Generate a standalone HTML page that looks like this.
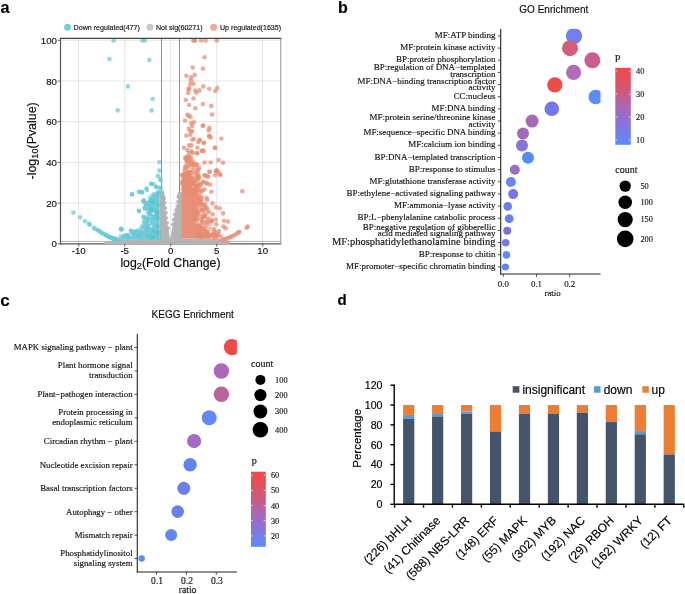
<!DOCTYPE html>
<html><head><meta charset="utf-8"><style>
html,body{margin:0;padding:0;background:#fff;width:685px;height:594px;overflow:hidden}
svg{display:block;will-change:transform}
text{stroke:currentColor;stroke-width:0.15px}
</style></head><body>
<svg width="685" height="594" viewBox="0 0 685 594">
<rect width="685" height="594" fill="#fff"/>
<text x="0.4" y="12.9" font-size="16.2" font-family='"Liberation Sans", sans-serif' text-anchor="start" fill="#000" font-weight="bold">a</text>
<text x="337.9" y="12.7" font-size="16" font-family='"Liberation Sans", sans-serif' text-anchor="start" fill="#000" font-weight="bold">b</text>
<text x="0.2" y="305.5" font-size="17" font-family='"Liberation Sans", sans-serif' text-anchor="start" fill="#000" font-weight="bold">c</text>
<text x="337.6" y="304.7" font-size="15" font-family='"Liberation Sans", sans-serif' text-anchor="start" fill="#000" font-weight="bold">d</text>
<rect x="60.5" y="38.3" width="220.2" height="205.5" fill="#fff"/>
<line x1="78.69999999999999" y1="38.3" x2="78.69999999999999" y2="243.8" stroke="#dedede" stroke-width="0.8" />
<line x1="124.69999999999999" y1="38.3" x2="124.69999999999999" y2="243.8" stroke="#dedede" stroke-width="0.8" />
<line x1="170.7" y1="38.3" x2="170.7" y2="243.8" stroke="#dedede" stroke-width="0.8" />
<line x1="216.7" y1="38.3" x2="216.7" y2="243.8" stroke="#dedede" stroke-width="0.8" />
<line x1="262.7" y1="38.3" x2="262.7" y2="243.8" stroke="#dedede" stroke-width="0.8" />
<line x1="60.5" y1="203.10000000000002" x2="280.7" y2="203.10000000000002" stroke="#dedede" stroke-width="0.8" />
<line x1="60.5" y1="162.4" x2="280.7" y2="162.4" stroke="#dedede" stroke-width="0.8" />
<line x1="60.5" y1="121.7" x2="280.7" y2="121.7" stroke="#dedede" stroke-width="0.8" />
<line x1="60.5" y1="81.0" x2="280.7" y2="81.0" stroke="#dedede" stroke-width="0.8" />
<line x1="60.5" y1="40.30000000000001" x2="280.7" y2="40.30000000000001" stroke="#dedede" stroke-width="0.8" />
<line x1="161.5" y1="38.3" x2="161.5" y2="243.8" stroke="#909090" stroke-width="1" />
<line x1="179.5" y1="38.3" x2="179.5" y2="243.8" stroke="#909090" stroke-width="1" />
<line x1="60.5" y1="241.4" x2="280.7" y2="241.4" stroke="#9a9a9a" stroke-width="0.8" />
<line x1="59.9" y1="243.8" x2="281.3" y2="243.8" stroke="#555" stroke-width="1.2" />
<polygon points="104.4,244.6 104.4,241.4 110.0,241.0 116.0,239.6 125.0,239.2 140.0,239.0 150.0,238.8 159.4,238.6 159.4,194.0 160.3,191.8 162.1,190.8 163.9,192.0 164.6,196.0 164.6,200.2 165.1,205.2 165.6,211.3 166.1,215.3 166.6,220.4 167.6,225.4 168.6,230.5 169.6,235.5 170.4,238.5 171.2,233.5 172.7,225.4 174.2,217.3 175.2,212.3 176.7,208.2 177.7,205.2 178.2,201.2 178.0,196.1 178.7,193.3 180.2,191.3 182.1,192.5 182.1,238.4 200.0,238.5 215.0,238.7 222.0,239.2 226.0,240.0 230.5,241.0 230.5,244.6" fill="#b4b4b4"/>
<circle cx="162.1" cy="193.2" r="2.0" fill="#b0b0b0" fill-opacity="0.8"/>
<circle cx="164.2" cy="198.5" r="2.0" fill="#b0b0b0" fill-opacity="0.8"/>
<circle cx="164.6" cy="203.0" r="2.0" fill="#b0b0b0" fill-opacity="0.8"/>
<circle cx="165.3" cy="208.0" r="2.0" fill="#b0b0b0" fill-opacity="0.8"/>
<circle cx="165.9" cy="213.0" r="2.0" fill="#b0b0b0" fill-opacity="0.8"/>
<circle cx="166.3" cy="218.0" r="2.0" fill="#b0b0b0" fill-opacity="0.8"/>
<circle cx="167.1" cy="223.0" r="2.0" fill="#b0b0b0" fill-opacity="0.8"/>
<circle cx="168.1" cy="228.0" r="2.0" fill="#b0b0b0" fill-opacity="0.8"/>
<circle cx="179.6" cy="193.6" r="2.0" fill="#b0b0b0" fill-opacity="0.8"/>
<circle cx="178.4" cy="197.0" r="2.0" fill="#b0b0b0" fill-opacity="0.8"/>
<circle cx="178.2" cy="201.5" r="2.0" fill="#b0b0b0" fill-opacity="0.8"/>
<circle cx="177.3" cy="206.0" r="2.0" fill="#b0b0b0" fill-opacity="0.8"/>
<circle cx="176.0" cy="210.0" r="2.0" fill="#b0b0b0" fill-opacity="0.8"/>
<circle cx="174.8" cy="214.5" r="2.0" fill="#b0b0b0" fill-opacity="0.8"/>
<circle cx="173.7" cy="219.5" r="2.0" fill="#b0b0b0" fill-opacity="0.8"/>
<circle cx="172.9" cy="224.5" r="2.0" fill="#b0b0b0" fill-opacity="0.8"/>
<circle cx="161.9" cy="192.6" r="2.4" fill="#b3b3b3" fill-opacity="0.95"/>
<circle cx="179.4" cy="195.3" r="2.4" fill="#b3b3b3" fill-opacity="0.95"/>
<circle cx="179.7" cy="202.6" r="2.4" fill="#b3b3b3" fill-opacity="0.95"/>
<circle cx="162.6" cy="197.0" r="2.4" fill="#b3b3b3" fill-opacity="0.95"/>
<polygon points="159.5,195.0 157.0,195.5 154.4,197.2 152.2,199.4 151.7,202.2 151.1,206.7 149.5,209.5 149.5,212.5 151.5,215.6 150.8,220.0 148.9,224.4 146.5,228.0 143.3,230.2 140.0,232.4 135.6,234.6 130.0,236.3 125.6,238.0 122.0,239.2 159.5,239.2" fill="#74ccd9"/>
<circle cx="156.7" cy="194.9" r="2.3" fill="#68c9d7" fill-opacity="0.62"/>
<circle cx="158.7" cy="193.8" r="2.3" fill="#68c9d7" fill-opacity="0.62"/>
<circle cx="158.6" cy="192.7" r="2.3" fill="#68c9d7" fill-opacity="0.62"/>
<circle cx="153.6" cy="194.1" r="2.3" fill="#68c9d7" fill-opacity="0.62"/>
<circle cx="156.3" cy="194.2" r="2.3" fill="#68c9d7" fill-opacity="0.62"/>
<circle cx="156.1" cy="196.7" r="2.3" fill="#68c9d7" fill-opacity="0.62"/>
<circle cx="152.0" cy="199.4" r="2.3" fill="#68c9d7" fill-opacity="0.62"/>
<circle cx="154.8" cy="195.8" r="2.3" fill="#68c9d7" fill-opacity="0.62"/>
<circle cx="152.0" cy="196.1" r="2.3" fill="#68c9d7" fill-opacity="0.62"/>
<circle cx="149.9" cy="201.2" r="2.3" fill="#68c9d7" fill-opacity="0.62"/>
<circle cx="150.7" cy="200.6" r="2.3" fill="#68c9d7" fill-opacity="0.62"/>
<circle cx="149.9" cy="197.8" r="2.3" fill="#68c9d7" fill-opacity="0.62"/>
<circle cx="150.3" cy="203.9" r="2.3" fill="#68c9d7" fill-opacity="0.62"/>
<circle cx="150.4" cy="203.4" r="2.3" fill="#68c9d7" fill-opacity="0.62"/>
<circle cx="151.2" cy="204.1" r="2.3" fill="#68c9d7" fill-opacity="0.62"/>
<circle cx="149.5" cy="208.9" r="2.3" fill="#68c9d7" fill-opacity="0.62"/>
<circle cx="148.4" cy="209.7" r="2.3" fill="#68c9d7" fill-opacity="0.62"/>
<circle cx="149.9" cy="207.2" r="2.3" fill="#68c9d7" fill-opacity="0.62"/>
<circle cx="148.7" cy="207.6" r="2.3" fill="#68c9d7" fill-opacity="0.62"/>
<circle cx="149.7" cy="211.0" r="2.3" fill="#68c9d7" fill-opacity="0.62"/>
<circle cx="148.1" cy="212.1" r="2.3" fill="#68c9d7" fill-opacity="0.62"/>
<circle cx="150.2" cy="213.4" r="2.3" fill="#68c9d7" fill-opacity="0.62"/>
<circle cx="152.0" cy="214.3" r="2.3" fill="#68c9d7" fill-opacity="0.62"/>
<circle cx="148.5" cy="214.5" r="2.3" fill="#68c9d7" fill-opacity="0.62"/>
<circle cx="152.0" cy="218.8" r="2.3" fill="#68c9d7" fill-opacity="0.62"/>
<circle cx="150.2" cy="216.7" r="2.3" fill="#68c9d7" fill-opacity="0.62"/>
<circle cx="150.6" cy="213.8" r="2.3" fill="#68c9d7" fill-opacity="0.62"/>
<circle cx="148.3" cy="220.7" r="2.3" fill="#68c9d7" fill-opacity="0.62"/>
<circle cx="148.9" cy="219.4" r="2.3" fill="#68c9d7" fill-opacity="0.62"/>
<circle cx="146.9" cy="222.9" r="2.3" fill="#68c9d7" fill-opacity="0.62"/>
<circle cx="148.2" cy="226.7" r="2.3" fill="#68c9d7" fill-opacity="0.62"/>
<circle cx="145.3" cy="226.5" r="2.3" fill="#68c9d7" fill-opacity="0.62"/>
<circle cx="148.6" cy="226.5" r="2.3" fill="#68c9d7" fill-opacity="0.62"/>
<circle cx="144.1" cy="226.6" r="2.3" fill="#68c9d7" fill-opacity="0.62"/>
<circle cx="145.0" cy="228.1" r="2.3" fill="#68c9d7" fill-opacity="0.62"/>
<circle cx="143.2" cy="227.5" r="2.3" fill="#68c9d7" fill-opacity="0.62"/>
<circle cx="141.6" cy="231.8" r="2.3" fill="#68c9d7" fill-opacity="0.62"/>
<circle cx="140.3" cy="231.4" r="2.3" fill="#68c9d7" fill-opacity="0.62"/>
<circle cx="138.8" cy="232.3" r="2.3" fill="#68c9d7" fill-opacity="0.62"/>
<circle cx="137.1" cy="234.4" r="2.3" fill="#68c9d7" fill-opacity="0.62"/>
<circle cx="137.2" cy="231.1" r="2.3" fill="#68c9d7" fill-opacity="0.62"/>
<circle cx="134.9" cy="231.5" r="2.3" fill="#68c9d7" fill-opacity="0.62"/>
<circle cx="132.5" cy="233.6" r="2.3" fill="#68c9d7" fill-opacity="0.62"/>
<circle cx="132.8" cy="232.7" r="2.3" fill="#68c9d7" fill-opacity="0.62"/>
<circle cx="133.8" cy="232.4" r="2.3" fill="#68c9d7" fill-opacity="0.62"/>
<circle cx="125.8" cy="235.8" r="2.3" fill="#68c9d7" fill-opacity="0.62"/>
<circle cx="127.6" cy="235.5" r="2.3" fill="#68c9d7" fill-opacity="0.62"/>
<circle cx="129.9" cy="237.5" r="2.3" fill="#68c9d7" fill-opacity="0.62"/>
<circle cx="123.1" cy="236.4" r="2.3" fill="#68c9d7" fill-opacity="0.62"/>
<circle cx="123.9" cy="236.5" r="2.3" fill="#68c9d7" fill-opacity="0.62"/>
<circle cx="120.7" cy="236.6" r="2.3" fill="#68c9d7" fill-opacity="0.62"/>
<circle cx="143.5" cy="201.5" r="2.3" fill="#68c9d7" fill-opacity="0.62"/>
<circle cx="145.5" cy="203.8" r="2.3" fill="#68c9d7" fill-opacity="0.62"/>
<circle cx="147.5" cy="202.8" r="2.3" fill="#68c9d7" fill-opacity="0.62"/>
<circle cx="144.4" cy="207.8" r="2.3" fill="#68c9d7" fill-opacity="0.62"/>
<circle cx="143.3" cy="217.0" r="2.3" fill="#68c9d7" fill-opacity="0.62"/>
<circle cx="145.5" cy="218.5" r="2.3" fill="#68c9d7" fill-opacity="0.62"/>
<circle cx="147.8" cy="219.6" r="2.3" fill="#68c9d7" fill-opacity="0.62"/>
<circle cx="144.5" cy="221.0" r="2.3" fill="#68c9d7" fill-opacity="0.62"/>
<circle cx="146.5" cy="222.5" r="2.3" fill="#68c9d7" fill-opacity="0.62"/>
<circle cx="142.5" cy="226.0" r="2.3" fill="#68c9d7" fill-opacity="0.62"/>
<circle cx="140.5" cy="228.6" r="2.3" fill="#68c9d7" fill-opacity="0.62"/>
<circle cx="137.0" cy="231.0" r="2.3" fill="#68c9d7" fill-opacity="0.62"/>
<circle cx="133.0" cy="233.0" r="2.3" fill="#68c9d7" fill-opacity="0.62"/>
<circle cx="128.5" cy="235.0" r="2.3" fill="#68c9d7" fill-opacity="0.62"/>
<circle cx="127.0" cy="236.5" r="2.3" fill="#68c9d7" fill-opacity="0.62"/>
<circle cx="124.5" cy="237.5" r="2.3" fill="#68c9d7" fill-opacity="0.62"/>
<circle cx="155.5" cy="196.0" r="2.3" fill="#68c9d7" fill-opacity="0.62"/>
<circle cx="158.0" cy="193.5" r="2.3" fill="#68c9d7" fill-opacity="0.62"/>
<circle cx="157.7" cy="218.3" r="2.3" fill="#4fbccc" fill-opacity="0.3"/>
<circle cx="158.7" cy="233.2" r="2.3" fill="#4fbccc" fill-opacity="0.3"/>
<circle cx="151.2" cy="209.6" r="2.3" fill="#4fbccc" fill-opacity="0.3"/>
<circle cx="158.9" cy="232.7" r="2.3" fill="#4fbccc" fill-opacity="0.3"/>
<circle cx="152.2" cy="231.2" r="2.3" fill="#4fbccc" fill-opacity="0.3"/>
<circle cx="148.0" cy="237.3" r="2.3" fill="#4fbccc" fill-opacity="0.3"/>
<circle cx="138.8" cy="236.4" r="2.3" fill="#4fbccc" fill-opacity="0.3"/>
<circle cx="159.1" cy="237.2" r="2.3" fill="#4fbccc" fill-opacity="0.3"/>
<circle cx="155.8" cy="232.1" r="2.3" fill="#4fbccc" fill-opacity="0.3"/>
<circle cx="146.8" cy="235.2" r="2.3" fill="#4fbccc" fill-opacity="0.3"/>
<circle cx="151.3" cy="228.2" r="2.3" fill="#4fbccc" fill-opacity="0.3"/>
<circle cx="151.6" cy="209.7" r="2.3" fill="#4fbccc" fill-opacity="0.3"/>
<circle cx="152.0" cy="237.9" r="2.3" fill="#4fbccc" fill-opacity="0.3"/>
<circle cx="157.5" cy="227.0" r="2.3" fill="#4fbccc" fill-opacity="0.3"/>
<circle cx="152.2" cy="201.5" r="2.3" fill="#4fbccc" fill-opacity="0.3"/>
<circle cx="153.0" cy="238.3" r="2.3" fill="#4fbccc" fill-opacity="0.3"/>
<circle cx="157.0" cy="214.2" r="2.3" fill="#4fbccc" fill-opacity="0.3"/>
<circle cx="154.7" cy="231.5" r="2.3" fill="#4fbccc" fill-opacity="0.3"/>
<circle cx="156.1" cy="210.6" r="2.3" fill="#4fbccc" fill-opacity="0.3"/>
<circle cx="155.9" cy="213.6" r="2.3" fill="#4fbccc" fill-opacity="0.3"/>
<circle cx="156.4" cy="217.2" r="2.3" fill="#4fbccc" fill-opacity="0.3"/>
<circle cx="152.0" cy="202.6" r="2.3" fill="#4fbccc" fill-opacity="0.3"/>
<circle cx="150.5" cy="235.3" r="2.3" fill="#4fbccc" fill-opacity="0.3"/>
<circle cx="157.3" cy="225.9" r="2.3" fill="#4fbccc" fill-opacity="0.3"/>
<circle cx="154.9" cy="236.6" r="2.3" fill="#4fbccc" fill-opacity="0.3"/>
<circle cx="157.4" cy="232.1" r="2.3" fill="#4fbccc" fill-opacity="0.3"/>
<circle cx="147.1" cy="229.6" r="2.3" fill="#4fbccc" fill-opacity="0.3"/>
<circle cx="155.6" cy="201.8" r="2.3" fill="#4fbccc" fill-opacity="0.3"/>
<circle cx="158.3" cy="204.7" r="2.3" fill="#4fbccc" fill-opacity="0.3"/>
<circle cx="157.7" cy="212.6" r="2.3" fill="#4fbccc" fill-opacity="0.3"/>
<circle cx="151" cy="226.5" r="1.4" fill="#fff" fill-opacity="0.55"/>
<circle cx="153.5" cy="213.5" r="1.4" fill="#fff" fill-opacity="0.55"/>
<polygon points="181.8,238.6 181.8,178.0 184.0,175.0 187.0,175.5 189.0,179.0 191.0,185.0 193.0,190.0 194.7,195.0 195.5,205.0 196.0,215.0 195.8,225.0 198.0,230.0 203.0,233.0 207.0,235.5 213.0,237.5 218.0,238.6" fill="#e8907a"/>
<circle cx="190.7" cy="191.6" r="2.3" fill="#e78c71" fill-opacity="0.55"/>
<circle cx="189.7" cy="174.1" r="2.3" fill="#e78c71" fill-opacity="0.55"/>
<circle cx="188.0" cy="162.2" r="2.3" fill="#e78c71" fill-opacity="0.55"/>
<circle cx="187.6" cy="181.7" r="2.3" fill="#e78c71" fill-opacity="0.55"/>
<circle cx="182.2" cy="175.5" r="2.3" fill="#e78c71" fill-opacity="0.55"/>
<circle cx="187.8" cy="178.1" r="2.3" fill="#e78c71" fill-opacity="0.55"/>
<circle cx="191.1" cy="157.4" r="2.3" fill="#e78c71" fill-opacity="0.55"/>
<circle cx="199.7" cy="184.2" r="2.3" fill="#e78c71" fill-opacity="0.55"/>
<circle cx="186.6" cy="156.5" r="2.3" fill="#e78c71" fill-opacity="0.55"/>
<circle cx="196.0" cy="165.0" r="2.3" fill="#e78c71" fill-opacity="0.55"/>
<circle cx="184.2" cy="170.6" r="2.3" fill="#e78c71" fill-opacity="0.55"/>
<circle cx="198.4" cy="185.3" r="2.3" fill="#e78c71" fill-opacity="0.55"/>
<circle cx="186.5" cy="160.5" r="2.3" fill="#e78c71" fill-opacity="0.55"/>
<circle cx="198.5" cy="176.1" r="2.3" fill="#e78c71" fill-opacity="0.55"/>
<circle cx="182.8" cy="180.5" r="2.3" fill="#e78c71" fill-opacity="0.55"/>
<circle cx="189.5" cy="157.7" r="2.3" fill="#e78c71" fill-opacity="0.55"/>
<circle cx="198.9" cy="178.5" r="2.3" fill="#e78c71" fill-opacity="0.55"/>
<circle cx="197.5" cy="171.8" r="2.3" fill="#e78c71" fill-opacity="0.55"/>
<circle cx="188.0" cy="175.5" r="2.3" fill="#e78c71" fill-opacity="0.55"/>
<circle cx="184.2" cy="174.5" r="2.3" fill="#e78c71" fill-opacity="0.55"/>
<circle cx="186.1" cy="159.0" r="2.3" fill="#e78c71" fill-opacity="0.55"/>
<circle cx="185.5" cy="166.5" r="2.3" fill="#e78c71" fill-opacity="0.55"/>
<circle cx="187.4" cy="183.1" r="2.3" fill="#e78c71" fill-opacity="0.55"/>
<circle cx="187.1" cy="173.5" r="2.3" fill="#e78c71" fill-opacity="0.55"/>
<circle cx="185.0" cy="167.8" r="2.3" fill="#e78c71" fill-opacity="0.55"/>
<circle cx="182.1" cy="182.1" r="2.3" fill="#e78c71" fill-opacity="0.55"/>
<circle cx="191.8" cy="162.0" r="2.3" fill="#e78c71" fill-opacity="0.55"/>
<circle cx="190.4" cy="189.6" r="2.3" fill="#e78c71" fill-opacity="0.55"/>
<circle cx="183.7" cy="185.3" r="2.3" fill="#e78c71" fill-opacity="0.55"/>
<circle cx="189.7" cy="173.3" r="2.3" fill="#e78c71" fill-opacity="0.55"/>
<circle cx="197.0" cy="169.5" r="2.3" fill="#e78c71" fill-opacity="0.55"/>
<circle cx="191.0" cy="180.4" r="2.3" fill="#e78c71" fill-opacity="0.55"/>
<circle cx="196.9" cy="181.1" r="2.3" fill="#e78c71" fill-opacity="0.55"/>
<circle cx="193.4" cy="170.0" r="2.3" fill="#e78c71" fill-opacity="0.55"/>
<circle cx="188.1" cy="157.0" r="2.3" fill="#e78c71" fill-opacity="0.55"/>
<circle cx="195.3" cy="164.5" r="2.3" fill="#e78c71" fill-opacity="0.55"/>
<circle cx="184.8" cy="158.1" r="2.3" fill="#e78c71" fill-opacity="0.55"/>
<circle cx="197.1" cy="187.2" r="2.3" fill="#e78c71" fill-opacity="0.55"/>
<circle cx="194.0" cy="165.4" r="2.3" fill="#e78c71" fill-opacity="0.55"/>
<circle cx="186.2" cy="165.8" r="2.3" fill="#e78c71" fill-opacity="0.55"/>
<circle cx="190.2" cy="160.8" r="2.3" fill="#e78c71" fill-opacity="0.55"/>
<circle cx="189.9" cy="164.7" r="2.3" fill="#e78c71" fill-opacity="0.55"/>
<circle cx="191.8" cy="164.0" r="2.3" fill="#e78c71" fill-opacity="0.55"/>
<circle cx="188.7" cy="172.6" r="2.3" fill="#e78c71" fill-opacity="0.55"/>
<circle cx="191.0" cy="162.4" r="2.3" fill="#e78c71" fill-opacity="0.55"/>
<circle cx="186.6" cy="158.3" r="2.3" fill="#e78c71" fill-opacity="0.55"/>
<circle cx="189.1" cy="156.5" r="2.3" fill="#e78c71" fill-opacity="0.55"/>
<circle cx="186.0" cy="176.7" r="2.3" fill="#e78c71" fill-opacity="0.55"/>
<circle cx="191.4" cy="182.8" r="2.3" fill="#e78c71" fill-opacity="0.55"/>
<circle cx="193.8" cy="181.5" r="2.3" fill="#e78c71" fill-opacity="0.55"/>
<circle cx="197.8" cy="169.4" r="2.3" fill="#e78c71" fill-opacity="0.55"/>
<circle cx="187.7" cy="191.4" r="2.3" fill="#e78c71" fill-opacity="0.55"/>
<circle cx="184.5" cy="181.8" r="2.3" fill="#e78c71" fill-opacity="0.55"/>
<circle cx="197.0" cy="188.0" r="2.3" fill="#e78c71" fill-opacity="0.55"/>
<circle cx="193.2" cy="182.2" r="2.3" fill="#e78c71" fill-opacity="0.55"/>
<circle cx="191.3" cy="173.7" r="2.3" fill="#e78c71" fill-opacity="0.55"/>
<circle cx="197.0" cy="184.8" r="2.3" fill="#e78c71" fill-opacity="0.55"/>
<circle cx="196.8" cy="176.6" r="2.3" fill="#e78c71" fill-opacity="0.55"/>
<circle cx="198.0" cy="180.3" r="2.3" fill="#e78c71" fill-opacity="0.55"/>
<circle cx="194.4" cy="163.5" r="2.3" fill="#e78c71" fill-opacity="0.55"/>
<circle cx="188.4" cy="158.9" r="2.3" fill="#e78c71" fill-opacity="0.55"/>
<circle cx="197.0" cy="175.7" r="2.3" fill="#e78c71" fill-opacity="0.55"/>
<circle cx="193.2" cy="178.2" r="2.3" fill="#e78c71" fill-opacity="0.55"/>
<circle cx="194.2" cy="173.1" r="2.3" fill="#e78c71" fill-opacity="0.55"/>
<circle cx="181.9" cy="184.5" r="2.3" fill="#e78c71" fill-opacity="0.55"/>
<circle cx="195.4" cy="173.6" r="2.3" fill="#e78c71" fill-opacity="0.55"/>
<circle cx="191.5" cy="179.4" r="2.3" fill="#e78c71" fill-opacity="0.55"/>
<circle cx="183.0" cy="182.3" r="2.3" fill="#e78c71" fill-opacity="0.55"/>
<circle cx="186.4" cy="157.8" r="2.3" fill="#e78c71" fill-opacity="0.55"/>
<circle cx="186.6" cy="182.0" r="2.3" fill="#e78c71" fill-opacity="0.55"/>
<circle cx="185.5" cy="182.4" r="2.3" fill="#e78c71" fill-opacity="0.55"/>
<circle cx="188.8" cy="172.7" r="2.3" fill="#e78c71" fill-opacity="0.55"/>
<circle cx="194.2" cy="183.4" r="2.3" fill="#e78c71" fill-opacity="0.55"/>
<circle cx="193.0" cy="178.8" r="2.3" fill="#e78c71" fill-opacity="0.55"/>
<circle cx="186.4" cy="182.5" r="2.3" fill="#e78c71" fill-opacity="0.55"/>
<circle cx="187.3" cy="176.0" r="2.3" fill="#e78c71" fill-opacity="0.55"/>
<circle cx="186.7" cy="179.9" r="2.3" fill="#e78c71" fill-opacity="0.55"/>
<circle cx="194.4" cy="180.0" r="2.3" fill="#e78c71" fill-opacity="0.55"/>
<circle cx="187.1" cy="174.1" r="2.3" fill="#e78c71" fill-opacity="0.55"/>
<circle cx="190.3" cy="172.3" r="2.3" fill="#e78c71" fill-opacity="0.55"/>
<circle cx="184.0" cy="188.1" r="2.3" fill="#e78c71" fill-opacity="0.55"/>
<circle cx="185.4" cy="191.2" r="2.3" fill="#e78c71" fill-opacity="0.55"/>
<circle cx="190.2" cy="185.3" r="2.3" fill="#e78c71" fill-opacity="0.55"/>
<circle cx="186.7" cy="162.8" r="2.3" fill="#e78c71" fill-opacity="0.55"/>
<circle cx="192.4" cy="160.2" r="2.3" fill="#e78c71" fill-opacity="0.55"/>
<circle cx="191.3" cy="190.3" r="2.3" fill="#e78c71" fill-opacity="0.55"/>
<circle cx="184.2" cy="185.3" r="2.3" fill="#e78c71" fill-opacity="0.55"/>
<circle cx="191.1" cy="187.8" r="2.3" fill="#e78c71" fill-opacity="0.55"/>
<circle cx="194.6" cy="163.6" r="2.3" fill="#e78c71" fill-opacity="0.55"/>
<circle cx="198.1" cy="173.0" r="2.3" fill="#e78c71" fill-opacity="0.55"/>
<circle cx="190.7" cy="171.7" r="2.3" fill="#e78c71" fill-opacity="0.55"/>
<circle cx="187.3" cy="160.2" r="2.3" fill="#e78c71" fill-opacity="0.55"/>
<circle cx="188.1" cy="166.7" r="2.3" fill="#e78c71" fill-opacity="0.55"/>
<circle cx="195.5" cy="186.0" r="2.3" fill="#e78c71" fill-opacity="0.55"/>
<circle cx="184.0" cy="189.3" r="2.3" fill="#e78c71" fill-opacity="0.55"/>
<circle cx="194.8" cy="188.4" r="2.3" fill="#e78c71" fill-opacity="0.55"/>
<circle cx="187.1" cy="168.8" r="2.3" fill="#e78c71" fill-opacity="0.55"/>
<circle cx="189.0" cy="192.0" r="2.3" fill="#e78c71" fill-opacity="0.55"/>
<circle cx="192.5" cy="168.3" r="2.3" fill="#e78c71" fill-opacity="0.55"/>
<circle cx="189.6" cy="165.2" r="2.3" fill="#e78c71" fill-opacity="0.55"/>
<circle cx="186.6" cy="173.9" r="2.3" fill="#e78c71" fill-opacity="0.55"/>
<circle cx="185.3" cy="168.8" r="2.3" fill="#e78c71" fill-opacity="0.55"/>
<circle cx="199.2" cy="187.7" r="2.3" fill="#e78c71" fill-opacity="0.55"/>
<circle cx="196.6" cy="178.3" r="2.3" fill="#e78c71" fill-opacity="0.55"/>
<circle cx="198.4" cy="189.8" r="2.3" fill="#e78c71" fill-opacity="0.55"/>
<circle cx="191.8" cy="181.6" r="2.3" fill="#e78c71" fill-opacity="0.55"/>
<circle cx="182.7" cy="182.1" r="2.3" fill="#e78c71" fill-opacity="0.55"/>
<circle cx="190.0" cy="182.8" r="2.3" fill="#e78c71" fill-opacity="0.55"/>
<circle cx="193.5" cy="165.6" r="2.3" fill="#e78c71" fill-opacity="0.55"/>
<circle cx="182.7" cy="189.3" r="2.3" fill="#e78c71" fill-opacity="0.55"/>
<circle cx="198.1" cy="212.7" r="2.3" fill="#e78c71" fill-opacity="0.6"/>
<circle cx="205.0" cy="204.3" r="2.3" fill="#e78c71" fill-opacity="0.6"/>
<circle cx="217.6" cy="236.9" r="2.3" fill="#e78c71" fill-opacity="0.6"/>
<circle cx="202.3" cy="221.5" r="2.3" fill="#e78c71" fill-opacity="0.6"/>
<circle cx="203.6" cy="216.8" r="2.3" fill="#e78c71" fill-opacity="0.6"/>
<circle cx="199.2" cy="200.0" r="2.3" fill="#e78c71" fill-opacity="0.6"/>
<circle cx="201.0" cy="233.5" r="2.3" fill="#e78c71" fill-opacity="0.6"/>
<circle cx="198.5" cy="199.2" r="2.3" fill="#e78c71" fill-opacity="0.6"/>
<circle cx="196.9" cy="206.4" r="2.3" fill="#e78c71" fill-opacity="0.6"/>
<circle cx="196.9" cy="201.5" r="2.3" fill="#e78c71" fill-opacity="0.6"/>
<circle cx="202.3" cy="217.3" r="2.3" fill="#e78c71" fill-opacity="0.6"/>
<circle cx="207.2" cy="209.9" r="2.3" fill="#e78c71" fill-opacity="0.6"/>
<circle cx="202.9" cy="236.4" r="2.3" fill="#e78c71" fill-opacity="0.6"/>
<circle cx="198.0" cy="214.2" r="2.3" fill="#e78c71" fill-opacity="0.6"/>
<circle cx="214.1" cy="231.4" r="2.3" fill="#e78c71" fill-opacity="0.6"/>
<circle cx="200.9" cy="203.0" r="2.3" fill="#e78c71" fill-opacity="0.6"/>
<circle cx="202.0" cy="209.2" r="2.3" fill="#e78c71" fill-opacity="0.6"/>
<circle cx="208.3" cy="235.8" r="2.3" fill="#e78c71" fill-opacity="0.6"/>
<circle cx="194.7" cy="191.5" r="2.3" fill="#e78c71" fill-opacity="0.6"/>
<circle cx="216.7" cy="233.0" r="2.3" fill="#e78c71" fill-opacity="0.6"/>
<circle cx="209.1" cy="218.2" r="2.3" fill="#e78c71" fill-opacity="0.6"/>
<circle cx="221.4" cy="236.7" r="2.3" fill="#e78c71" fill-opacity="0.6"/>
<circle cx="198.9" cy="215.1" r="2.3" fill="#e78c71" fill-opacity="0.6"/>
<circle cx="215.8" cy="235.2" r="2.3" fill="#e78c71" fill-opacity="0.6"/>
<circle cx="202.1" cy="220.5" r="2.3" fill="#e78c71" fill-opacity="0.6"/>
<circle cx="196.3" cy="215.2" r="2.3" fill="#e78c71" fill-opacity="0.6"/>
<circle cx="201.2" cy="218.9" r="2.3" fill="#e78c71" fill-opacity="0.6"/>
<circle cx="208.7" cy="236.0" r="2.3" fill="#e78c71" fill-opacity="0.6"/>
<circle cx="214.6" cy="232.4" r="2.3" fill="#e78c71" fill-opacity="0.6"/>
<circle cx="201.9" cy="236.1" r="2.3" fill="#e78c71" fill-opacity="0.6"/>
<circle cx="202.2" cy="222.0" r="2.3" fill="#e78c71" fill-opacity="0.6"/>
<circle cx="195.1" cy="206.2" r="2.3" fill="#e78c71" fill-opacity="0.6"/>
<circle cx="207.5" cy="222.8" r="2.3" fill="#e78c71" fill-opacity="0.6"/>
<circle cx="200.3" cy="228.3" r="2.3" fill="#e78c71" fill-opacity="0.6"/>
<circle cx="200.6" cy="236.6" r="2.3" fill="#e78c71" fill-opacity="0.6"/>
<circle cx="204.0" cy="229.4" r="2.3" fill="#e78c71" fill-opacity="0.6"/>
<circle cx="201.4" cy="200.6" r="2.3" fill="#e78c71" fill-opacity="0.6"/>
<circle cx="200.0" cy="200.7" r="2.3" fill="#e78c71" fill-opacity="0.6"/>
<circle cx="207.3" cy="221.9" r="2.3" fill="#e78c71" fill-opacity="0.6"/>
<circle cx="195.7" cy="192.9" r="2.3" fill="#e78c71" fill-opacity="0.6"/>
<circle cx="206.6" cy="233.1" r="2.3" fill="#e78c71" fill-opacity="0.6"/>
<circle cx="206.1" cy="207.9" r="2.3" fill="#e78c71" fill-opacity="0.6"/>
<circle cx="205.2" cy="235.9" r="2.3" fill="#e78c71" fill-opacity="0.6"/>
<circle cx="198.0" cy="236.3" r="2.3" fill="#e78c71" fill-opacity="0.6"/>
<circle cx="200.6" cy="207.1" r="2.3" fill="#e78c71" fill-opacity="0.6"/>
<circle cx="205.7" cy="233.1" r="2.3" fill="#e78c71" fill-opacity="0.6"/>
<circle cx="195.0" cy="209.7" r="2.3" fill="#e78c71" fill-opacity="0.6"/>
<circle cx="195.3" cy="191.7" r="2.3" fill="#e78c71" fill-opacity="0.6"/>
<circle cx="196.0" cy="234.2" r="2.3" fill="#e78c71" fill-opacity="0.6"/>
<circle cx="202.2" cy="225.9" r="2.3" fill="#e78c71" fill-opacity="0.6"/>
<circle cx="202.7" cy="236.0" r="2.3" fill="#e78c71" fill-opacity="0.6"/>
<circle cx="218.2" cy="234.0" r="2.3" fill="#e78c71" fill-opacity="0.6"/>
<circle cx="214.3" cy="235.3" r="2.3" fill="#e78c71" fill-opacity="0.6"/>
<circle cx="194.8" cy="201.2" r="2.3" fill="#e78c71" fill-opacity="0.6"/>
<circle cx="209.2" cy="235.9" r="2.3" fill="#e78c71" fill-opacity="0.6"/>
<circle cx="202.0" cy="210.6" r="2.3" fill="#e78c71" fill-opacity="0.6"/>
<circle cx="209.8" cy="234.5" r="2.3" fill="#e78c71" fill-opacity="0.6"/>
<circle cx="199.9" cy="228.5" r="2.3" fill="#e78c71" fill-opacity="0.6"/>
<circle cx="204.5" cy="205.3" r="2.3" fill="#e78c71" fill-opacity="0.6"/>
<circle cx="205.6" cy="227.5" r="2.3" fill="#e78c71" fill-opacity="0.6"/>
<circle cx="196.5" cy="199.5" r="2.3" fill="#e78c71" fill-opacity="0.6"/>
<circle cx="196.1" cy="191.6" r="2.3" fill="#e78c71" fill-opacity="0.6"/>
<circle cx="196.7" cy="194.6" r="2.3" fill="#e78c71" fill-opacity="0.6"/>
<circle cx="210.0" cy="224.1" r="2.3" fill="#e78c71" fill-opacity="0.6"/>
<circle cx="207.3" cy="219.8" r="2.3" fill="#e78c71" fill-opacity="0.6"/>
<circle cx="197.9" cy="230.4" r="2.3" fill="#e78c71" fill-opacity="0.6"/>
<circle cx="203.4" cy="217.2" r="2.3" fill="#e78c71" fill-opacity="0.6"/>
<circle cx="205.9" cy="225.4" r="2.3" fill="#e78c71" fill-opacity="0.6"/>
<circle cx="200.4" cy="201.9" r="2.3" fill="#e78c71" fill-opacity="0.6"/>
<circle cx="201.9" cy="197.4" r="2.3" fill="#e78c71" fill-opacity="0.6"/>
<circle cx="204.4" cy="209.0" r="2.3" fill="#e78c71" fill-opacity="0.6"/>
<circle cx="201.4" cy="228.8" r="2.3" fill="#e78c71" fill-opacity="0.6"/>
<circle cx="214.9" cy="237.6" r="2.3" fill="#e78c71" fill-opacity="0.6"/>
<circle cx="197.3" cy="212.8" r="2.3" fill="#e78c71" fill-opacity="0.6"/>
<circle cx="200.1" cy="236.7" r="2.3" fill="#e78c71" fill-opacity="0.6"/>
<circle cx="212.7" cy="234.6" r="2.3" fill="#e78c71" fill-opacity="0.6"/>
<circle cx="205.9" cy="231.6" r="2.3" fill="#e78c71" fill-opacity="0.6"/>
<circle cx="218.9" cy="235.4" r="2.3" fill="#e78c71" fill-opacity="0.6"/>
<circle cx="197.4" cy="218.6" r="2.3" fill="#e78c71" fill-opacity="0.6"/>
<circle cx="200.5" cy="202.2" r="2.3" fill="#e78c71" fill-opacity="0.6"/>
<circle cx="204.5" cy="222.6" r="2.3" fill="#e78c71" fill-opacity="0.6"/>
<circle cx="199.9" cy="205.0" r="2.3" fill="#e78c71" fill-opacity="0.6"/>
<circle cx="200.5" cy="228.2" r="2.3" fill="#e78c71" fill-opacity="0.6"/>
<circle cx="197.2" cy="209.0" r="2.3" fill="#e78c71" fill-opacity="0.6"/>
<circle cx="211.6" cy="220.7" r="2.3" fill="#e78c71" fill-opacity="0.6"/>
<circle cx="196.9" cy="197.9" r="2.3" fill="#e78c71" fill-opacity="0.6"/>
<circle cx="203.1" cy="204.8" r="2.3" fill="#e78c71" fill-opacity="0.6"/>
<circle cx="207.3" cy="231.5" r="2.3" fill="#e78c71" fill-opacity="0.6"/>
<circle cx="200.3" cy="224.9" r="2.3" fill="#e78c71" fill-opacity="0.6"/>
<circle cx="199.2" cy="190.7" r="2.3" fill="#e78c71" fill-opacity="0.6"/>
<circle cx="211.6" cy="220.8" r="2.3" fill="#e78c71" fill-opacity="0.6"/>
<circle cx="203.1" cy="215.0" r="2.3" fill="#e78c71" fill-opacity="0.6"/>
<circle cx="209.7" cy="228.6" r="2.3" fill="#e78c71" fill-opacity="0.6"/>
<circle cx="198.1" cy="235.3" r="2.3" fill="#e78c71" fill-opacity="0.6"/>
<circle cx="206.4" cy="233.4" r="2.3" fill="#e78c71" fill-opacity="0.6"/>
<circle cx="185.9" cy="173.8" r="2.3" fill="#e78c71" fill-opacity="0.6"/>
<circle cx="183.5" cy="174.3" r="2.3" fill="#e78c71" fill-opacity="0.6"/>
<circle cx="186.4" cy="173.2" r="2.3" fill="#e78c71" fill-opacity="0.6"/>
<circle cx="183.1" cy="176.4" r="2.3" fill="#e78c71" fill-opacity="0.6"/>
<circle cx="182.2" cy="174.8" r="2.3" fill="#e78c71" fill-opacity="0.6"/>
<circle cx="189.2" cy="172.5" r="2.3" fill="#e78c71" fill-opacity="0.6"/>
<circle cx="188.1" cy="172.4" r="2.3" fill="#e78c71" fill-opacity="0.6"/>
<circle cx="186.0" cy="174.8" r="2.3" fill="#e78c71" fill-opacity="0.6"/>
<circle cx="187.5" cy="173.5" r="2.3" fill="#e78c71" fill-opacity="0.6"/>
<circle cx="186.9" cy="173.9" r="2.3" fill="#e78c71" fill-opacity="0.6"/>
<circle cx="189.3" cy="176.6" r="2.3" fill="#e78c71" fill-opacity="0.6"/>
<circle cx="188.8" cy="174.5" r="2.3" fill="#e78c71" fill-opacity="0.6"/>
<circle cx="189.9" cy="176.4" r="2.3" fill="#e78c71" fill-opacity="0.6"/>
<circle cx="187.7" cy="176.0" r="2.3" fill="#e78c71" fill-opacity="0.6"/>
<circle cx="186.8" cy="174.6" r="2.3" fill="#e78c71" fill-opacity="0.6"/>
<circle cx="190.2" cy="178.6" r="2.3" fill="#e78c71" fill-opacity="0.6"/>
<circle cx="190.9" cy="176.6" r="2.3" fill="#e78c71" fill-opacity="0.6"/>
<circle cx="193.0" cy="182.4" r="2.3" fill="#e78c71" fill-opacity="0.6"/>
<circle cx="190.4" cy="177.8" r="2.3" fill="#e78c71" fill-opacity="0.6"/>
<circle cx="190.5" cy="185.1" r="2.3" fill="#e78c71" fill-opacity="0.6"/>
<circle cx="195.3" cy="190.2" r="2.3" fill="#e78c71" fill-opacity="0.6"/>
<circle cx="194.8" cy="184.9" r="2.3" fill="#e78c71" fill-opacity="0.6"/>
<circle cx="196.0" cy="187.4" r="2.3" fill="#e78c71" fill-opacity="0.6"/>
<circle cx="195.8" cy="186.2" r="2.3" fill="#e78c71" fill-opacity="0.6"/>
<circle cx="194.1" cy="184.4" r="2.3" fill="#e78c71" fill-opacity="0.6"/>
<circle cx="194.8" cy="194.7" r="2.3" fill="#e78c71" fill-opacity="0.6"/>
<circle cx="194.5" cy="191.4" r="2.3" fill="#e78c71" fill-opacity="0.6"/>
<circle cx="193.5" cy="190.1" r="2.3" fill="#e78c71" fill-opacity="0.6"/>
<circle cx="192.7" cy="189.3" r="2.3" fill="#e78c71" fill-opacity="0.6"/>
<circle cx="196.5" cy="190.5" r="2.3" fill="#e78c71" fill-opacity="0.6"/>
<circle cx="195.2" cy="204.1" r="2.3" fill="#e78c71" fill-opacity="0.6"/>
<circle cx="196.2" cy="195.7" r="2.3" fill="#e78c71" fill-opacity="0.6"/>
<circle cx="197.9" cy="197.8" r="2.3" fill="#e78c71" fill-opacity="0.6"/>
<circle cx="198.1" cy="198.2" r="2.3" fill="#e78c71" fill-opacity="0.6"/>
<circle cx="197.3" cy="203.5" r="2.3" fill="#e78c71" fill-opacity="0.6"/>
<circle cx="196.1" cy="213.9" r="2.3" fill="#e78c71" fill-opacity="0.6"/>
<circle cx="196.4" cy="210.8" r="2.3" fill="#e78c71" fill-opacity="0.6"/>
<circle cx="195.5" cy="209.4" r="2.3" fill="#e78c71" fill-opacity="0.6"/>
<circle cx="198.2" cy="203.5" r="2.3" fill="#e78c71" fill-opacity="0.6"/>
<circle cx="199.2" cy="210.7" r="2.3" fill="#e78c71" fill-opacity="0.6"/>
<circle cx="196.3" cy="218.6" r="2.3" fill="#e78c71" fill-opacity="0.6"/>
<circle cx="195.7" cy="214.8" r="2.3" fill="#e78c71" fill-opacity="0.6"/>
<circle cx="197.2" cy="219.9" r="2.3" fill="#e78c71" fill-opacity="0.6"/>
<circle cx="196.0" cy="215.9" r="2.3" fill="#e78c71" fill-opacity="0.6"/>
<circle cx="195.0" cy="213.6" r="2.3" fill="#e78c71" fill-opacity="0.6"/>
<circle cx="196.6" cy="223.4" r="2.3" fill="#e78c71" fill-opacity="0.6"/>
<circle cx="198.7" cy="225.7" r="2.3" fill="#e78c71" fill-opacity="0.6"/>
<circle cx="198.3" cy="225.7" r="2.3" fill="#e78c71" fill-opacity="0.6"/>
<circle cx="198.0" cy="227.3" r="2.3" fill="#e78c71" fill-opacity="0.6"/>
<circle cx="197.9" cy="226.0" r="2.3" fill="#e78c71" fill-opacity="0.6"/>
<circle cx="202.7" cy="230.4" r="2.3" fill="#e78c71" fill-opacity="0.6"/>
<circle cx="200.0" cy="229.3" r="2.3" fill="#e78c71" fill-opacity="0.6"/>
<circle cx="201.7" cy="229.8" r="2.3" fill="#e78c71" fill-opacity="0.6"/>
<circle cx="205.0" cy="230.8" r="2.3" fill="#e78c71" fill-opacity="0.6"/>
<circle cx="201.7" cy="231.8" r="2.3" fill="#e78c71" fill-opacity="0.6"/>
<circle cx="204.7" cy="231.2" r="2.3" fill="#e78c71" fill-opacity="0.6"/>
<circle cx="205.2" cy="234.2" r="2.3" fill="#e78c71" fill-opacity="0.6"/>
<circle cx="206.4" cy="233.2" r="2.3" fill="#e78c71" fill-opacity="0.6"/>
<circle cx="206.7" cy="234.1" r="2.3" fill="#e78c71" fill-opacity="0.6"/>
<circle cx="206.0" cy="233.3" r="2.3" fill="#e78c71" fill-opacity="0.6"/>
<circle cx="208.0" cy="236.7" r="2.3" fill="#e78c71" fill-opacity="0.6"/>
<circle cx="213.9" cy="234.1" r="2.3" fill="#e78c71" fill-opacity="0.6"/>
<circle cx="214.4" cy="236.0" r="2.3" fill="#e78c71" fill-opacity="0.6"/>
<circle cx="212.5" cy="234.9" r="2.3" fill="#e78c71" fill-opacity="0.6"/>
<circle cx="207.7" cy="232.9" r="2.3" fill="#e78c71" fill-opacity="0.6"/>
<circle cx="113.6" cy="40.5" r="2.3" fill="#68c9d7" fill-opacity="0.72"/>
<circle cx="142.4" cy="40.5" r="2.3" fill="#68c9d7" fill-opacity="0.72"/>
<circle cx="144.8" cy="40.5" r="2.3" fill="#68c9d7" fill-opacity="0.72"/>
<circle cx="109.4" cy="59.0" r="2.3" fill="#68c9d7" fill-opacity="0.72"/>
<circle cx="149.3" cy="59.9" r="2.3" fill="#68c9d7" fill-opacity="0.72"/>
<circle cx="127.9" cy="86.4" r="2.3" fill="#68c9d7" fill-opacity="0.72"/>
<circle cx="152.7" cy="99.0" r="2.3" fill="#68c9d7" fill-opacity="0.72"/>
<circle cx="117.7" cy="110.4" r="2.3" fill="#68c9d7" fill-opacity="0.72"/>
<circle cx="151.6" cy="110.4" r="2.3" fill="#68c9d7" fill-opacity="0.72"/>
<circle cx="159.3" cy="162.2" r="2.3" fill="#68c9d7" fill-opacity="0.72"/>
<circle cx="159.4" cy="170.6" r="2.3" fill="#68c9d7" fill-opacity="0.72"/>
<circle cx="157.9" cy="175.9" r="2.3" fill="#68c9d7" fill-opacity="0.72"/>
<circle cx="160.2" cy="178.9" r="2.3" fill="#68c9d7" fill-opacity="0.72"/>
<circle cx="160.9" cy="180.5" r="2.3" fill="#68c9d7" fill-opacity="0.72"/>
<circle cx="151.1" cy="183.9" r="2.3" fill="#68c9d7" fill-opacity="0.72"/>
<circle cx="153.6" cy="184.2" r="2.3" fill="#68c9d7" fill-opacity="0.72"/>
<circle cx="156.4" cy="187.3" r="2.3" fill="#68c9d7" fill-opacity="0.72"/>
<circle cx="160.2" cy="187.7" r="2.3" fill="#68c9d7" fill-opacity="0.72"/>
<circle cx="146.5" cy="188.3" r="2.3" fill="#68c9d7" fill-opacity="0.72"/>
<circle cx="138.9" cy="191.8" r="2.3" fill="#68c9d7" fill-opacity="0.72"/>
<circle cx="142.0" cy="192.3" r="2.3" fill="#68c9d7" fill-opacity="0.72"/>
<circle cx="132.1" cy="194.4" r="2.3" fill="#68c9d7" fill-opacity="0.72"/>
<circle cx="143.9" cy="200.6" r="2.3" fill="#68c9d7" fill-opacity="0.72"/>
<circle cx="146.1" cy="203.2" r="2.3" fill="#68c9d7" fill-opacity="0.72"/>
<circle cx="148.0" cy="204.4" r="2.3" fill="#68c9d7" fill-opacity="0.72"/>
<circle cx="153.6" cy="197.6" r="2.3" fill="#68c9d7" fill-opacity="0.72"/>
<circle cx="155.2" cy="199.1" r="2.3" fill="#68c9d7" fill-opacity="0.72"/>
<circle cx="145.5" cy="208.2" r="2.3" fill="#68c9d7" fill-opacity="0.72"/>
<circle cx="138.9" cy="211.1" r="2.3" fill="#68c9d7" fill-opacity="0.72"/>
<circle cx="121.5" cy="229.4" r="2.3" fill="#68c9d7" fill-opacity="0.72"/>
<circle cx="130.9" cy="230.8" r="2.3" fill="#68c9d7" fill-opacity="0.72"/>
<circle cx="126.8" cy="235.3" r="2.3" fill="#68c9d7" fill-opacity="0.72"/>
<circle cx="151.8" cy="183.8" r="2.3" fill="#68c9d7" fill-opacity="0.72"/>
<circle cx="156.3" cy="186.8" r="2.3" fill="#68c9d7" fill-opacity="0.72"/>
<circle cx="160.7" cy="188.2" r="2.3" fill="#68c9d7" fill-opacity="0.72"/>
<circle cx="158.0" cy="192.0" r="2.3" fill="#68c9d7" fill-opacity="0.72"/>
<circle cx="73.3" cy="212.6" r="2.3" fill="#68c9d7" fill-opacity="0.72"/>
<circle cx="80.1" cy="217.3" r="2.3" fill="#68c9d7" fill-opacity="0.72"/>
<circle cx="85.0" cy="221.3" r="2.3" fill="#68c9d7" fill-opacity="0.72"/>
<circle cx="89.1" cy="223.9" r="2.3" fill="#68c9d7" fill-opacity="0.72"/>
<circle cx="89.8" cy="224.6" r="2.3" fill="#68c9d7" fill-opacity="0.72"/>
<circle cx="93.7" cy="227.9" r="2.3" fill="#68c9d7" fill-opacity="0.72"/>
<circle cx="97.8" cy="230.3" r="2.3" fill="#68c9d7" fill-opacity="0.72"/>
<circle cx="99.3" cy="231.0" r="2.3" fill="#68c9d7" fill-opacity="0.72"/>
<circle cx="101.9" cy="233.0" r="2.3" fill="#68c9d7" fill-opacity="0.72"/>
<circle cx="103.4" cy="233.8" r="2.3" fill="#68c9d7" fill-opacity="0.72"/>
<circle cx="105.0" cy="234.6" r="2.3" fill="#68c9d7" fill-opacity="0.72"/>
<circle cx="107.0" cy="235.7" r="2.3" fill="#68c9d7" fill-opacity="0.72"/>
<circle cx="109.0" cy="236.7" r="2.3" fill="#68c9d7" fill-opacity="0.72"/>
<circle cx="111.1" cy="237.7" r="2.3" fill="#68c9d7" fill-opacity="0.72"/>
<circle cx="113.1" cy="238.4" r="2.3" fill="#68c9d7" fill-opacity="0.72"/>
<circle cx="115.2" cy="238.9" r="2.3" fill="#68c9d7" fill-opacity="0.72"/>
<circle cx="117.2" cy="239.2" r="2.3" fill="#68c9d7" fill-opacity="0.72"/>
<circle cx="121.3" cy="229.2" r="2.3" fill="#68c9d7" fill-opacity="0.72"/>
<circle cx="132.0" cy="194.2" r="2.3" fill="#68c9d7" fill-opacity="0.72"/>
<circle cx="139.9" cy="191.9" r="2.3" fill="#68c9d7" fill-opacity="0.72"/>
<circle cx="142.2" cy="192.3" r="2.3" fill="#68c9d7" fill-opacity="0.72"/>
<circle cx="146.9" cy="190.0" r="2.3" fill="#68c9d7" fill-opacity="0.72"/>
<circle cx="143.6" cy="200.6" r="2.3" fill="#68c9d7" fill-opacity="0.72"/>
<circle cx="145.9" cy="203.9" r="2.3" fill="#68c9d7" fill-opacity="0.72"/>
<circle cx="147.8" cy="203.9" r="2.3" fill="#68c9d7" fill-opacity="0.72"/>
<circle cx="139.0" cy="210.8" r="2.3" fill="#68c9d7" fill-opacity="0.72"/>
<circle cx="145.0" cy="208.5" r="2.3" fill="#68c9d7" fill-opacity="0.72"/>
<circle cx="144.1" cy="216.9" r="2.3" fill="#68c9d7" fill-opacity="0.72"/>
<circle cx="146.9" cy="217.8" r="2.3" fill="#68c9d7" fill-opacity="0.72"/>
<circle cx="144.0" cy="222.4" r="2.3" fill="#68c9d7" fill-opacity="0.72"/>
<circle cx="146.9" cy="225.2" r="2.3" fill="#68c9d7" fill-opacity="0.72"/>
<circle cx="120.9" cy="228.9" r="2.3" fill="#68c9d7" fill-opacity="0.72"/>
<circle cx="131.1" cy="230.7" r="2.3" fill="#68c9d7" fill-opacity="0.72"/>
<circle cx="135.3" cy="233.5" r="2.3" fill="#68c9d7" fill-opacity="0.72"/>
<circle cx="126.5" cy="235.4" r="2.3" fill="#68c9d7" fill-opacity="0.72"/>
<circle cx="127.4" cy="238.1" r="2.3" fill="#68c9d7" fill-opacity="0.72"/>
<circle cx="120.9" cy="239.0" r="2.3" fill="#68c9d7" fill-opacity="0.72"/>
<circle cx="95.5" cy="229.0" r="2.3" fill="#68c9d7" fill-opacity="0.72"/>
<circle cx="100.5" cy="232.0" r="2.3" fill="#68c9d7" fill-opacity="0.72"/>
<circle cx="106.0" cy="235.0" r="2.3" fill="#68c9d7" fill-opacity="0.72"/>
<circle cx="108.0" cy="236.2" r="2.3" fill="#68c9d7" fill-opacity="0.72"/>
<circle cx="110.0" cy="237.2" r="2.3" fill="#68c9d7" fill-opacity="0.72"/>
<circle cx="112.0" cy="238.0" r="2.3" fill="#68c9d7" fill-opacity="0.72"/>
<circle cx="114.0" cy="238.6" r="2.3" fill="#68c9d7" fill-opacity="0.72"/>
<circle cx="116.0" cy="239.0" r="2.3" fill="#68c9d7" fill-opacity="0.72"/>
<circle cx="193.3" cy="40.5" r="2.3" fill="#e78c71" fill-opacity="0.72"/>
<circle cx="194.5" cy="40.5" r="2.3" fill="#e78c71" fill-opacity="0.72"/>
<circle cx="195.0" cy="40.5" r="2.3" fill="#e78c71" fill-opacity="0.72"/>
<circle cx="201.2" cy="40.5" r="2.3" fill="#e78c71" fill-opacity="0.72"/>
<circle cx="205.6" cy="40.5" r="2.3" fill="#e78c71" fill-opacity="0.72"/>
<circle cx="216.8" cy="40.5" r="2.3" fill="#e78c71" fill-opacity="0.72"/>
<circle cx="204.5" cy="57.2" r="2.3" fill="#e78c71" fill-opacity="0.72"/>
<circle cx="192.7" cy="67.6" r="2.3" fill="#e78c71" fill-opacity="0.72"/>
<circle cx="202.9" cy="68.6" r="2.3" fill="#e78c71" fill-opacity="0.72"/>
<circle cx="186.4" cy="75.7" r="2.3" fill="#e78c71" fill-opacity="0.72"/>
<circle cx="194.7" cy="74.9" r="2.3" fill="#e78c71" fill-opacity="0.72"/>
<circle cx="191.1" cy="77.2" r="2.3" fill="#e78c71" fill-opacity="0.72"/>
<circle cx="190.9" cy="80.2" r="2.3" fill="#e78c71" fill-opacity="0.72"/>
<circle cx="190.3" cy="84.3" r="2.3" fill="#e78c71" fill-opacity="0.72"/>
<circle cx="193.5" cy="83.7" r="2.3" fill="#e78c71" fill-opacity="0.72"/>
<circle cx="189.1" cy="88.4" r="2.3" fill="#e78c71" fill-opacity="0.72"/>
<circle cx="188.6" cy="89.6" r="2.3" fill="#e78c71" fill-opacity="0.72"/>
<circle cx="188.2" cy="92.9" r="2.3" fill="#e78c71" fill-opacity="0.72"/>
<circle cx="195.3" cy="90.6" r="2.3" fill="#e78c71" fill-opacity="0.72"/>
<circle cx="196.2" cy="92.6" r="2.3" fill="#e78c71" fill-opacity="0.72"/>
<circle cx="199.5" cy="90.4" r="2.3" fill="#e78c71" fill-opacity="0.72"/>
<circle cx="203.3" cy="86.4" r="2.3" fill="#e78c71" fill-opacity="0.72"/>
<circle cx="209.2" cy="88.8" r="2.3" fill="#e78c71" fill-opacity="0.72"/>
<circle cx="217.2" cy="87.9" r="2.3" fill="#e78c71" fill-opacity="0.72"/>
<circle cx="215.3" cy="91.0" r="2.3" fill="#e78c71" fill-opacity="0.72"/>
<circle cx="185.8" cy="100.0" r="2.3" fill="#e78c71" fill-opacity="0.72"/>
<circle cx="193.5" cy="98.5" r="2.3" fill="#e78c71" fill-opacity="0.72"/>
<circle cx="189.1" cy="105.0" r="2.3" fill="#e78c71" fill-opacity="0.72"/>
<circle cx="202.9" cy="104.1" r="2.3" fill="#e78c71" fill-opacity="0.72"/>
<circle cx="211.3" cy="105.9" r="2.3" fill="#e78c71" fill-opacity="0.72"/>
<circle cx="195.3" cy="108.2" r="2.3" fill="#e78c71" fill-opacity="0.72"/>
<circle cx="187.4" cy="114.7" r="2.3" fill="#e78c71" fill-opacity="0.72"/>
<circle cx="188.6" cy="115.9" r="2.3" fill="#e78c71" fill-opacity="0.72"/>
<circle cx="190.6" cy="116.9" r="2.3" fill="#e78c71" fill-opacity="0.72"/>
<circle cx="212.1" cy="114.5" r="2.3" fill="#e78c71" fill-opacity="0.72"/>
<circle cx="185.0" cy="120.6" r="2.3" fill="#e78c71" fill-opacity="0.72"/>
<circle cx="191.1" cy="123.0" r="2.3" fill="#e78c71" fill-opacity="0.72"/>
<circle cx="193.9" cy="122.2" r="2.3" fill="#e78c71" fill-opacity="0.72"/>
<circle cx="192.1" cy="125.9" r="2.3" fill="#e78c71" fill-opacity="0.72"/>
<circle cx="202.9" cy="125.6" r="2.3" fill="#e78c71" fill-opacity="0.72"/>
<circle cx="209.4" cy="127.9" r="2.3" fill="#e78c71" fill-opacity="0.72"/>
<circle cx="208.6" cy="130.4" r="2.3" fill="#e78c71" fill-opacity="0.72"/>
<circle cx="188.8" cy="128.9" r="2.3" fill="#e78c71" fill-opacity="0.72"/>
<circle cx="190.6" cy="131.2" r="2.3" fill="#e78c71" fill-opacity="0.72"/>
<circle cx="192.3" cy="131.2" r="2.3" fill="#e78c71" fill-opacity="0.72"/>
<circle cx="186.4" cy="135.6" r="2.3" fill="#e78c71" fill-opacity="0.72"/>
<circle cx="190.3" cy="134.8" r="2.3" fill="#e78c71" fill-opacity="0.72"/>
<circle cx="209.2" cy="135.9" r="2.3" fill="#e78c71" fill-opacity="0.72"/>
<circle cx="210.7" cy="137.4" r="2.3" fill="#e78c71" fill-opacity="0.72"/>
<circle cx="221.3" cy="138.5" r="2.3" fill="#e78c71" fill-opacity="0.72"/>
<circle cx="192.1" cy="139.7" r="2.3" fill="#e78c71" fill-opacity="0.72"/>
<circle cx="193.9" cy="138.9" r="2.3" fill="#e78c71" fill-opacity="0.72"/>
<circle cx="199.5" cy="140.1" r="2.3" fill="#e78c71" fill-opacity="0.72"/>
<circle cx="198.2" cy="142.1" r="2.3" fill="#e78c71" fill-opacity="0.72"/>
<circle cx="203.9" cy="142.8" r="2.3" fill="#e78c71" fill-opacity="0.72"/>
<circle cx="189.1" cy="145.4" r="2.3" fill="#e78c71" fill-opacity="0.72"/>
<circle cx="191.5" cy="145.4" r="2.3" fill="#e78c71" fill-opacity="0.72"/>
<circle cx="183.8" cy="147.7" r="2.3" fill="#e78c71" fill-opacity="0.72"/>
<circle cx="187.4" cy="150.1" r="2.3" fill="#e78c71" fill-opacity="0.72"/>
<circle cx="197.4" cy="147.7" r="2.3" fill="#e78c71" fill-opacity="0.72"/>
<circle cx="215.1" cy="147.7" r="2.3" fill="#e78c71" fill-opacity="0.72"/>
<circle cx="191.5" cy="151.3" r="2.3" fill="#e78c71" fill-opacity="0.72"/>
<circle cx="192.7" cy="153.0" r="2.3" fill="#e78c71" fill-opacity="0.72"/>
<circle cx="189.1" cy="153.0" r="2.3" fill="#e78c71" fill-opacity="0.72"/>
<circle cx="197.2" cy="153.3" r="2.3" fill="#e78c71" fill-opacity="0.72"/>
<circle cx="202.1" cy="150.9" r="2.3" fill="#e78c71" fill-opacity="0.72"/>
<circle cx="203.9" cy="150.9" r="2.3" fill="#e78c71" fill-opacity="0.72"/>
<circle cx="203.0" cy="125.7" r="2.3" fill="#e78c71" fill-opacity="0.72"/>
<circle cx="209.1" cy="136.3" r="2.3" fill="#e78c71" fill-opacity="0.72"/>
<circle cx="199.7" cy="140.0" r="2.3" fill="#e78c71" fill-opacity="0.72"/>
<circle cx="203.8" cy="142.7" r="2.3" fill="#e78c71" fill-opacity="0.72"/>
<circle cx="214.8" cy="147.7" r="2.3" fill="#e78c71" fill-opacity="0.72"/>
<circle cx="202.1" cy="150.6" r="2.3" fill="#e78c71" fill-opacity="0.72"/>
<circle cx="196.8" cy="153.0" r="2.3" fill="#e78c71" fill-opacity="0.72"/>
<circle cx="204.5" cy="162.5" r="2.3" fill="#e78c71" fill-opacity="0.72"/>
<circle cx="210.6" cy="162.5" r="2.3" fill="#e78c71" fill-opacity="0.72"/>
<circle cx="218.6" cy="160.1" r="2.3" fill="#e78c71" fill-opacity="0.72"/>
<circle cx="223.1" cy="162.8" r="2.3" fill="#e78c71" fill-opacity="0.72"/>
<circle cx="197.4" cy="164.8" r="2.3" fill="#e78c71" fill-opacity="0.72"/>
<circle cx="199.2" cy="168.3" r="2.3" fill="#e78c71" fill-opacity="0.72"/>
<circle cx="216.8" cy="170.0" r="2.3" fill="#e78c71" fill-opacity="0.72"/>
<circle cx="209.5" cy="171.8" r="2.3" fill="#e78c71" fill-opacity="0.72"/>
<circle cx="215.7" cy="171.2" r="2.3" fill="#e78c71" fill-opacity="0.72"/>
<circle cx="218.0" cy="171.8" r="2.3" fill="#e78c71" fill-opacity="0.72"/>
<circle cx="220.4" cy="174.7" r="2.3" fill="#e78c71" fill-opacity="0.72"/>
<circle cx="215.1" cy="175.3" r="2.3" fill="#e78c71" fill-opacity="0.72"/>
<circle cx="204.5" cy="175.3" r="2.3" fill="#e78c71" fill-opacity="0.72"/>
<circle cx="208.0" cy="176.5" r="2.3" fill="#e78c71" fill-opacity="0.72"/>
<circle cx="198.6" cy="177.1" r="2.3" fill="#e78c71" fill-opacity="0.72"/>
<circle cx="203.3" cy="181.8" r="2.3" fill="#e78c71" fill-opacity="0.72"/>
<circle cx="206.8" cy="183.0" r="2.3" fill="#e78c71" fill-opacity="0.72"/>
<circle cx="210.1" cy="184.5" r="2.3" fill="#e78c71" fill-opacity="0.72"/>
<circle cx="200.3" cy="184.7" r="2.3" fill="#e78c71" fill-opacity="0.72"/>
<circle cx="204.5" cy="189.5" r="2.3" fill="#e78c71" fill-opacity="0.72"/>
<circle cx="202.1" cy="190.6" r="2.3" fill="#e78c71" fill-opacity="0.72"/>
<circle cx="211.3" cy="191.8" r="2.3" fill="#e78c71" fill-opacity="0.72"/>
<circle cx="242.4" cy="191.2" r="2.3" fill="#e78c71" fill-opacity="0.72"/>
<circle cx="206.6" cy="197.7" r="2.3" fill="#e78c71" fill-opacity="0.72"/>
<circle cx="200.9" cy="197.7" r="2.3" fill="#e78c71" fill-opacity="0.72"/>
<circle cx="203.3" cy="204.8" r="2.3" fill="#e78c71" fill-opacity="0.72"/>
<circle cx="212.5" cy="203.4" r="2.3" fill="#e78c71" fill-opacity="0.72"/>
<circle cx="216.0" cy="207.4" r="2.3" fill="#e78c71" fill-opacity="0.72"/>
<circle cx="219.8" cy="208.3" r="2.3" fill="#e78c71" fill-opacity="0.72"/>
<circle cx="206.8" cy="207.7" r="2.3" fill="#e78c71" fill-opacity="0.72"/>
<circle cx="203.3" cy="210.7" r="2.3" fill="#e78c71" fill-opacity="0.72"/>
<circle cx="212.7" cy="214.2" r="2.3" fill="#e78c71" fill-opacity="0.72"/>
<circle cx="223.1" cy="213.4" r="2.3" fill="#e78c71" fill-opacity="0.72"/>
<circle cx="205.6" cy="214.2" r="2.3" fill="#e78c71" fill-opacity="0.72"/>
<circle cx="205.0" cy="216.6" r="2.3" fill="#e78c71" fill-opacity="0.72"/>
<circle cx="211.5" cy="220.7" r="2.3" fill="#e78c71" fill-opacity="0.72"/>
<circle cx="215.7" cy="219.5" r="2.3" fill="#e78c71" fill-opacity="0.72"/>
<circle cx="223.9" cy="220.7" r="2.3" fill="#e78c71" fill-opacity="0.72"/>
<circle cx="228.0" cy="221.5" r="2.3" fill="#e78c71" fill-opacity="0.72"/>
<circle cx="216.2" cy="224.2" r="2.3" fill="#e78c71" fill-opacity="0.72"/>
<circle cx="223.3" cy="226.6" r="2.3" fill="#e78c71" fill-opacity="0.72"/>
<circle cx="225.7" cy="228.3" r="2.3" fill="#e78c71" fill-opacity="0.72"/>
<circle cx="246.6" cy="227.8" r="2.3" fill="#e78c71" fill-opacity="0.72"/>
<circle cx="247.9" cy="226.5" r="2.3" fill="#e78c71" fill-opacity="0.72"/>
<circle cx="209.7" cy="171.8" r="2.3" fill="#e78c71" fill-opacity="0.72"/>
<circle cx="216.2" cy="171.3" r="2.3" fill="#e78c71" fill-opacity="0.72"/>
<circle cx="219.7" cy="174.4" r="2.3" fill="#e78c71" fill-opacity="0.72"/>
<circle cx="205.0" cy="175.4" r="2.3" fill="#e78c71" fill-opacity="0.72"/>
<circle cx="207.7" cy="176.6" r="2.3" fill="#e78c71" fill-opacity="0.72"/>
<circle cx="198.5" cy="176.6" r="2.3" fill="#e78c71" fill-opacity="0.72"/>
<circle cx="202.7" cy="182.5" r="2.3" fill="#e78c71" fill-opacity="0.72"/>
<circle cx="206.8" cy="183.6" r="2.3" fill="#e78c71" fill-opacity="0.72"/>
<circle cx="200.3" cy="184.8" r="2.3" fill="#e78c71" fill-opacity="0.72"/>
<circle cx="222.3" cy="239.7" r="2.3" fill="#e78c71" fill-opacity="0.72"/>
<circle cx="224.5" cy="239.2" r="2.3" fill="#e78c71" fill-opacity="0.72"/>
<circle cx="226.5" cy="238.6" r="2.3" fill="#e78c71" fill-opacity="0.72"/>
<circle cx="228.5" cy="237.8" r="2.3" fill="#e78c71" fill-opacity="0.72"/>
<circle cx="230.5" cy="237.0" r="2.3" fill="#e78c71" fill-opacity="0.72"/>
<circle cx="232.5" cy="236.0" r="2.3" fill="#e78c71" fill-opacity="0.72"/>
<circle cx="234.5" cy="235.0" r="2.3" fill="#e78c71" fill-opacity="0.72"/>
<circle cx="236.5" cy="233.8" r="2.3" fill="#e78c71" fill-opacity="0.72"/>
<circle cx="238.3" cy="232.6" r="2.3" fill="#e78c71" fill-opacity="0.72"/>
<circle cx="239.4" cy="231.8" r="2.3" fill="#e78c71" fill-opacity="0.72"/>
<circle cx="200.0" cy="200.0" r="2.3" fill="#e78c71" fill-opacity="0.72"/>
<circle cx="199.0" cy="195.0" r="2.3" fill="#e78c71" fill-opacity="0.72"/>
<circle cx="201.0" cy="192.0" r="2.3" fill="#e78c71" fill-opacity="0.72"/>
<circle cx="207.0" cy="200.0" r="2.3" fill="#e78c71" fill-opacity="0.72"/>
<circle cx="209.0" cy="212.0" r="2.3" fill="#e78c71" fill-opacity="0.72"/>
<circle cx="214.0" cy="229.0" r="2.3" fill="#e78c71" fill-opacity="0.72"/>
<circle cx="219.0" cy="231.0" r="2.3" fill="#e78c71" fill-opacity="0.72"/>
<line x1="280.7" y1="38.3" x2="280.7" y2="243.8" stroke="#aaa" stroke-width="1.3" />
<line x1="60.5" y1="38.3" x2="281.3" y2="38.3" stroke="#444" stroke-width="1.2" />
<line x1="60.5" y1="37.699999999999996" x2="60.5" y2="244.4" stroke="#555" stroke-width="1.2" />
<line x1="57.7" y1="243.8" x2="60.5" y2="243.8" stroke="#555" stroke-width="0.9" />
<text x="57.0" y="247.4" font-size="9.7" font-family='"Liberation Sans", sans-serif' text-anchor="end" fill="#222" >0</text>
<line x1="57.7" y1="203.10000000000002" x2="60.5" y2="203.10000000000002" stroke="#555" stroke-width="0.9" />
<text x="57.0" y="206.70000000000002" font-size="9.7" font-family='"Liberation Sans", sans-serif' text-anchor="end" fill="#222" >20</text>
<line x1="57.7" y1="162.4" x2="60.5" y2="162.4" stroke="#555" stroke-width="0.9" />
<text x="57.0" y="166.0" font-size="9.7" font-family='"Liberation Sans", sans-serif' text-anchor="end" fill="#222" >40</text>
<line x1="57.7" y1="121.7" x2="60.5" y2="121.7" stroke="#555" stroke-width="0.9" />
<text x="57.0" y="125.3" font-size="9.7" font-family='"Liberation Sans", sans-serif' text-anchor="end" fill="#222" >60</text>
<line x1="57.7" y1="81.0" x2="60.5" y2="81.0" stroke="#555" stroke-width="0.9" />
<text x="57.0" y="84.6" font-size="9.7" font-family='"Liberation Sans", sans-serif' text-anchor="end" fill="#222" >80</text>
<line x1="57.7" y1="40.30000000000001" x2="60.5" y2="40.30000000000001" stroke="#555" stroke-width="0.9" />
<text x="57.0" y="43.90000000000001" font-size="9.7" font-family='"Liberation Sans", sans-serif' text-anchor="end" fill="#222" >100</text>
<line x1="78.69999999999999" y1="243.8" x2="78.69999999999999" y2="246.60000000000002" stroke="#555" stroke-width="0.9" />
<text x="78.69999999999999" y="254.2" font-size="9.7" font-family='"Liberation Sans", sans-serif' text-anchor="middle" fill="#222" >-10</text>
<line x1="124.69999999999999" y1="243.8" x2="124.69999999999999" y2="246.60000000000002" stroke="#555" stroke-width="0.9" />
<text x="124.69999999999999" y="254.2" font-size="9.7" font-family='"Liberation Sans", sans-serif' text-anchor="middle" fill="#222" >-5</text>
<line x1="170.7" y1="243.8" x2="170.7" y2="246.60000000000002" stroke="#555" stroke-width="0.9" />
<text x="170.7" y="254.2" font-size="9.7" font-family='"Liberation Sans", sans-serif' text-anchor="middle" fill="#222" >0</text>
<line x1="216.7" y1="243.8" x2="216.7" y2="246.60000000000002" stroke="#555" stroke-width="0.9" />
<text x="216.7" y="254.2" font-size="9.7" font-family='"Liberation Sans", sans-serif' text-anchor="middle" fill="#222" >5</text>
<line x1="262.7" y1="243.8" x2="262.7" y2="246.60000000000002" stroke="#555" stroke-width="0.9" />
<text x="262.7" y="254.2" font-size="9.7" font-family='"Liberation Sans", sans-serif' text-anchor="middle" fill="#222" >10</text>
<text x="120.4" y="267.4" font-size="12.3" font-family='"Liberation Sans", sans-serif' fill="#111">log<tspan font-size="9.2" dy="1.9">2</tspan><tspan dy="-1.9">(Fold Change)</tspan></text>
<text transform="translate(36.4,179.4) rotate(-90)" font-size="12.4" font-family='"Liberation Sans", sans-serif' fill="#111">-log<tspan font-size="9.2" dy="1.9">10</tspan><tspan dy="-1.9">(Pvalue)</tspan></text>
<circle cx="67.50" cy="27.30" r="3.50" fill="#74cfdb" />
<text x="73.6" y="29.8" font-size="7.1" font-family='"Liberation Sans", sans-serif' text-anchor="start" fill="#222" >Down regulated(477)</text>
<circle cx="150.00" cy="27.30" r="3.50" fill="#c8c8c8" />
<text x="156.0" y="29.8" font-size="7.1" font-family='"Liberation Sans", sans-serif' text-anchor="start" fill="#222" >Not sig(60271)</text>
<circle cx="213.60" cy="27.30" r="3.50" fill="#ecab98" />
<text x="220.0" y="29.8" font-size="7.1" font-family='"Liberation Sans", sans-serif' text-anchor="start" fill="#222" >Up regulated(1635)</text>
<text x="553.8" y="12.8" font-size="10" font-family='"Liberation Sans", sans-serif' text-anchor="middle" fill="#111" >GO Enrichment</text>
<defs><clipPath id="cb"><rect x="500.7" y="28.8" width="99.8" height="246"/></clipPath><clipPath id="cc"><rect x="137.3" y="332" width="99.6" height="240"/></clipPath><linearGradient id="gb" x1="0" y1="1" x2="0" y2="0"><stop offset="0" stop-color="#5a8cfa"/><stop offset="0.3" stop-color="#8a72da"/><stop offset="0.5" stop-color="#ab66b2"/><stop offset="0.75" stop-color="#d6566f"/><stop offset="1" stop-color="#f04848"/></linearGradient><linearGradient id="gc" x1="0" y1="1" x2="0" y2="0"><stop offset="0" stop-color="#5a8cfa"/><stop offset="0.25" stop-color="#8a72da"/><stop offset="0.45" stop-color="#ab66b2"/><stop offset="0.72" stop-color="#d6566f"/><stop offset="1" stop-color="#f04848"/></linearGradient></defs>
<line x1="497.9" y1="35.9" x2="500.7" y2="35.9" stroke="#222" stroke-width="0.8" />
<text x="495.5" y="38.0" font-size="8.98" font-family='"Liberation Serif", serif' text-anchor="end" fill="#1a1a1a" >MF:ATP binding</text>
<line x1="497.9" y1="48.058" x2="500.7" y2="48.058" stroke="#222" stroke-width="0.8" />
<text x="495.5" y="50.158" font-size="8.98" font-family='"Liberation Serif", serif' text-anchor="end" fill="#1a1a1a" >MF:protein kinase activity</text>
<line x1="497.9" y1="60.215999999999994" x2="500.7" y2="60.215999999999994" stroke="#222" stroke-width="0.8" />
<text x="495.5" y="62.315999999999995" font-size="8.98" font-family='"Liberation Serif", serif' text-anchor="end" fill="#1a1a1a" >BP:protein phosphorylation</text>
<line x1="497.9" y1="72.374" x2="500.7" y2="72.374" stroke="#222" stroke-width="0.8" />
<text x="495.5" y="70.47399999999999" font-size="8.98" font-family='"Liberation Serif", serif' text-anchor="end" fill="#1a1a1a" >BP:regulation of DNA−templated</text>
<text x="495.5" y="77.374" font-size="8.98" font-family='"Liberation Serif", serif' text-anchor="end" fill="#1a1a1a" >transcription</text>
<line x1="497.9" y1="84.532" x2="500.7" y2="84.532" stroke="#222" stroke-width="0.8" />
<text x="495.5" y="83.63199999999999" font-size="8.98" font-family='"Liberation Serif", serif' text-anchor="end" fill="#1a1a1a" >MF:DNA−binding transcription factor</text>
<text x="495.5" y="90.032" font-size="8.98" font-family='"Liberation Serif", serif' text-anchor="end" fill="#1a1a1a" >activity</text>
<line x1="497.9" y1="96.69" x2="500.7" y2="96.69" stroke="#222" stroke-width="0.8" />
<text x="495.5" y="98.78999999999999" font-size="8.98" font-family='"Liberation Serif", serif' text-anchor="end" fill="#1a1a1a" >CC:nucleus</text>
<line x1="497.9" y1="108.84799999999998" x2="500.7" y2="108.84799999999998" stroke="#222" stroke-width="0.8" />
<text x="495.5" y="110.94799999999998" font-size="8.98" font-family='"Liberation Serif", serif' text-anchor="end" fill="#1a1a1a" >MF:DNA binding</text>
<line x1="497.9" y1="121.006" x2="500.7" y2="121.006" stroke="#222" stroke-width="0.8" />
<text x="495.5" y="120.106" font-size="8.98" font-family='"Liberation Serif", serif' text-anchor="end" fill="#1a1a1a" >MF:protein serine/threonine kinase</text>
<text x="495.5" y="126.506" font-size="8.98" font-family='"Liberation Serif", serif' text-anchor="end" fill="#1a1a1a" >activity</text>
<line x1="497.9" y1="133.164" x2="500.7" y2="133.164" stroke="#222" stroke-width="0.8" />
<text x="495.5" y="135.26399999999998" font-size="8.98" font-family='"Liberation Serif", serif' text-anchor="end" fill="#1a1a1a" >MF:sequence−specific DNA binding</text>
<line x1="497.9" y1="145.322" x2="500.7" y2="145.322" stroke="#222" stroke-width="0.8" />
<text x="495.5" y="147.422" font-size="8.98" font-family='"Liberation Serif", serif' text-anchor="end" fill="#1a1a1a" >MF:calcium ion binding</text>
<line x1="497.9" y1="157.48" x2="500.7" y2="157.48" stroke="#222" stroke-width="0.8" />
<text x="495.5" y="159.57999999999998" font-size="8.98" font-family='"Liberation Serif", serif' text-anchor="end" fill="#1a1a1a" >BP:DNA−templated transcription</text>
<line x1="497.9" y1="169.638" x2="500.7" y2="169.638" stroke="#222" stroke-width="0.8" />
<text x="495.5" y="171.738" font-size="8.98" font-family='"Liberation Serif", serif' text-anchor="end" fill="#1a1a1a" >BP:response to stimulus</text>
<line x1="497.9" y1="181.796" x2="500.7" y2="181.796" stroke="#222" stroke-width="0.8" />
<text x="495.5" y="183.896" font-size="8.98" font-family='"Liberation Serif", serif' text-anchor="end" fill="#1a1a1a" >MF:glutathione transferase activity</text>
<line x1="497.9" y1="193.954" x2="500.7" y2="193.954" stroke="#222" stroke-width="0.8" />
<text x="495.5" y="196.054" font-size="8.98" font-family='"Liberation Serif", serif' text-anchor="end" fill="#1a1a1a" >BP:ethylene−activated signaling pathway</text>
<line x1="497.9" y1="206.112" x2="500.7" y2="206.112" stroke="#222" stroke-width="0.8" />
<text x="495.5" y="208.212" font-size="8.98" font-family='"Liberation Serif", serif' text-anchor="end" fill="#1a1a1a" >MF:ammonia−lyase activity</text>
<line x1="497.9" y1="218.27" x2="500.7" y2="218.27" stroke="#222" stroke-width="0.8" />
<text x="495.5" y="220.37" font-size="8.98" font-family='"Liberation Serif", serif' text-anchor="end" fill="#1a1a1a" >BP:L−phenylalanine catabolic process</text>
<line x1="497.9" y1="230.428" x2="500.7" y2="230.428" stroke="#222" stroke-width="0.8" />
<text x="495.5" y="229.528" font-size="8.98" font-family='"Liberation Serif", serif' text-anchor="end" fill="#1a1a1a" >BP:negative regulation of gibberellic</text>
<text x="495.5" y="235.928" font-size="8.98" font-family='"Liberation Serif", serif' text-anchor="end" fill="#1a1a1a" >acid mediated signaling pathway</text>
<line x1="497.9" y1="242.58599999999998" x2="500.7" y2="242.58599999999998" stroke="#222" stroke-width="0.8" />
<text x="495.5" y="244.68599999999998" font-size="10.5" font-family='"Liberation Serif", serif' text-anchor="end" fill="#1a1a1a" >MF:phosphatidylethanolamine binding</text>
<line x1="497.9" y1="254.744" x2="500.7" y2="254.744" stroke="#222" stroke-width="0.8" />
<text x="495.5" y="256.844" font-size="8.98" font-family='"Liberation Serif", serif' text-anchor="end" fill="#1a1a1a" >BP:response to chitin</text>
<line x1="497.9" y1="266.902" x2="500.7" y2="266.902" stroke="#222" stroke-width="0.8" />
<text x="495.5" y="269.002" font-size="8.98" font-family='"Liberation Serif", serif' text-anchor="end" fill="#1a1a1a" >MF:promoter−specific chromatin binding</text>
<g clip-path="url(#cb)">
<circle cx="574.00" cy="36.10" r="8.10" fill="#7080f0" />
<circle cx="570.00" cy="48.20" r="8.00" fill="#d45d7a" />
<circle cx="592.40" cy="60.30" r="8.00" fill="#cb5e8c" />
<circle cx="573.60" cy="72.40" r="7.60" fill="#b06cb8" />
<circle cx="554.80" cy="84.80" r="7.60" fill="#f04a45" />
<circle cx="595.80" cy="97.00" r="7.30" fill="#5a8cfa" />
<circle cx="551.80" cy="108.80" r="7.30" fill="#7078ec" />
<circle cx="532.10" cy="121.10" r="6.50" fill="#aa68b8" />
<circle cx="523.00" cy="133.50" r="6.00" fill="#a468bc" />
<circle cx="522.00" cy="145.60" r="6.00" fill="#8676dc" />
<circle cx="528.00" cy="157.70" r="6.00" fill="#508cfa" />
<circle cx="514.80" cy="169.80" r="5.00" fill="#9c6cc8" />
<circle cx="510.90" cy="182.00" r="5.00" fill="#6884f5" />
<circle cx="513.20" cy="194.10" r="5.00" fill="#7078ea" />
<circle cx="507.70" cy="206.40" r="4.30" fill="#6c7cf0" />
<circle cx="509.20" cy="218.60" r="4.40" fill="#6680f4" />
<circle cx="507.20" cy="230.70" r="4.00" fill="#7c70dc" />
<circle cx="505.70" cy="242.80" r="3.80" fill="#6e7cec" />
<circle cx="506.50" cy="254.90" r="3.80" fill="#5c8af8" />
<circle cx="505.40" cy="267.00" r="3.60" fill="#6284f6" />
</g>
<line x1="500.7" y1="29.0" x2="500.7" y2="274.5" stroke="#222" stroke-width="1.1" />
<line x1="500.2" y1="274.0" x2="600.5" y2="274.0" stroke="#222" stroke-width="1.1" />
<line x1="503.3" y1="274.0" x2="503.3" y2="276.8" stroke="#222" stroke-width="0.8" />
<text x="503.3" y="286.6" font-size="8.9" font-family='"Liberation Serif", serif' text-anchor="middle" fill="#222" >0.0</text>
<line x1="536.5" y1="274.0" x2="536.5" y2="276.8" stroke="#222" stroke-width="0.8" />
<text x="536.5" y="286.6" font-size="8.9" font-family='"Liberation Serif", serif' text-anchor="middle" fill="#222" >0.1</text>
<line x1="569.7" y1="274.0" x2="569.7" y2="276.8" stroke="#222" stroke-width="0.8" />
<text x="569.7" y="286.6" font-size="8.9" font-family='"Liberation Serif", serif' text-anchor="middle" fill="#222" >0.2</text>
<text x="552.6" y="295.7" font-size="8.9" font-family='"Liberation Serif", serif' text-anchor="middle" fill="#222" >ratio</text>
<text x="614.8" y="61.9" font-size="10.3" font-family='"Liberation Serif", serif' text-anchor="start" fill="#222" >P</text>
<rect x="615.3" y="67.9" width="15.5" height="76.9" fill="url(#gb)"/>
<line x1="615.3" y1="71.1" x2="617.5" y2="71.1" stroke="#fff" stroke-width="0.6" />
<line x1="628.6" y1="71.1" x2="630.8" y2="71.1" stroke="#fff" stroke-width="0.6" />
<text x="636" y="74.1" font-size="8.3" font-family='"Liberation Serif", serif' text-anchor="start" fill="#222" >40</text>
<line x1="615.3" y1="94.1" x2="617.5" y2="94.1" stroke="#fff" stroke-width="0.6" />
<line x1="628.6" y1="94.1" x2="630.8" y2="94.1" stroke="#fff" stroke-width="0.6" />
<text x="636" y="97.1" font-size="8.3" font-family='"Liberation Serif", serif' text-anchor="start" fill="#222" >30</text>
<line x1="615.3" y1="116.89999999999999" x2="617.5" y2="116.89999999999999" stroke="#fff" stroke-width="0.6" />
<line x1="628.6" y1="116.89999999999999" x2="630.8" y2="116.89999999999999" stroke="#fff" stroke-width="0.6" />
<text x="636" y="119.89999999999999" font-size="8.3" font-family='"Liberation Serif", serif' text-anchor="start" fill="#222" >20</text>
<line x1="615.3" y1="139.9" x2="617.5" y2="139.9" stroke="#fff" stroke-width="0.6" />
<line x1="628.6" y1="139.9" x2="630.8" y2="139.9" stroke="#fff" stroke-width="0.6" />
<text x="636" y="142.9" font-size="8.3" font-family='"Liberation Serif", serif' text-anchor="start" fill="#222" >10</text>
<text x="615.2" y="172.8" font-size="10" font-family='"Liberation Serif", serif' text-anchor="start" fill="#222" >count</text>
<circle cx="625.20" cy="186.10" r="5.70" fill="#000" />
<text x="640.4" y="188.9" font-size="8.3" font-family='"Liberation Serif", serif' text-anchor="start" fill="#222" >50</text>
<circle cx="625.20" cy="202.20" r="6.80" fill="#000" />
<text x="640.4" y="205.0" font-size="8.3" font-family='"Liberation Serif", serif' text-anchor="start" fill="#222" >100</text>
<circle cx="625.20" cy="219.60" r="7.60" fill="#000" />
<text x="640.4" y="222.4" font-size="8.3" font-family='"Liberation Serif", serif' text-anchor="start" fill="#222" >150</text>
<circle cx="625.20" cy="238.90" r="8.30" fill="#000" />
<text x="640.4" y="241.70000000000002" font-size="8.3" font-family='"Liberation Serif", serif' text-anchor="start" fill="#222" >200</text>
<text x="192.7" y="318.0" font-size="10" font-family='"Liberation Sans", sans-serif' text-anchor="middle" fill="#111" >KEGG Enrichment</text>
<line x1="134.5" y1="347.5" x2="137.3" y2="347.5" stroke="#222" stroke-width="0.8" />
<text x="132.6" y="350.3" font-size="8.8" font-family='"Liberation Serif", serif' text-anchor="end" fill="#1a1a1a" >MAPK signaling pathway − plant</text>
<line x1="134.5" y1="370.96" x2="137.3" y2="370.96" stroke="#222" stroke-width="0.8" />
<text x="132.6" y="368.15999999999997" font-size="8.8" font-family='"Liberation Serif", serif' text-anchor="end" fill="#1a1a1a" >Plant hormone signal</text>
<text x="132.6" y="378.35999999999996" font-size="8.8" font-family='"Liberation Serif", serif' text-anchor="end" fill="#1a1a1a" >transduction</text>
<line x1="134.5" y1="394.42" x2="137.3" y2="394.42" stroke="#222" stroke-width="0.8" />
<text x="132.6" y="397.22" font-size="8.8" font-family='"Liberation Serif", serif' text-anchor="end" fill="#1a1a1a" >Plant−pathogen interaction</text>
<line x1="134.5" y1="417.88" x2="137.3" y2="417.88" stroke="#222" stroke-width="0.8" />
<text x="132.6" y="415.08" font-size="8.8" font-family='"Liberation Serif", serif' text-anchor="end" fill="#1a1a1a" >Protein processing in</text>
<text x="132.6" y="425.28" font-size="8.8" font-family='"Liberation Serif", serif' text-anchor="end" fill="#1a1a1a" >endoplasmic reticulum</text>
<line x1="134.5" y1="441.34000000000003" x2="137.3" y2="441.34000000000003" stroke="#222" stroke-width="0.8" />
<text x="132.6" y="444.14000000000004" font-size="8.8" font-family='"Liberation Serif", serif' text-anchor="end" fill="#1a1a1a" >Circadian rhythm − plant</text>
<line x1="134.5" y1="464.8" x2="137.3" y2="464.8" stroke="#222" stroke-width="0.8" />
<text x="132.6" y="467.6" font-size="8.8" font-family='"Liberation Serif", serif' text-anchor="end" fill="#1a1a1a" >Nucleotide excision repair</text>
<line x1="134.5" y1="488.26" x2="137.3" y2="488.26" stroke="#222" stroke-width="0.8" />
<text x="132.6" y="491.06" font-size="8.8" font-family='"Liberation Serif", serif' text-anchor="end" fill="#1a1a1a" >Basal transcription factors</text>
<line x1="134.5" y1="511.72" x2="137.3" y2="511.72" stroke="#222" stroke-width="0.8" />
<text x="132.6" y="514.52" font-size="8.8" font-family='"Liberation Serif", serif' text-anchor="end" fill="#1a1a1a" >Autophagy − other</text>
<line x1="134.5" y1="535.1800000000001" x2="137.3" y2="535.1800000000001" stroke="#222" stroke-width="0.8" />
<text x="132.6" y="537.98" font-size="8.8" font-family='"Liberation Serif", serif' text-anchor="end" fill="#1a1a1a" >Mismatch repair</text>
<line x1="134.5" y1="558.64" x2="137.3" y2="558.64" stroke="#222" stroke-width="0.8" />
<text x="132.6" y="555.84" font-size="8.8" font-family='"Liberation Serif", serif' text-anchor="end" fill="#1a1a1a" >Phosphatidylinositol</text>
<text x="132.6" y="566.04" font-size="8.8" font-family='"Liberation Serif", serif' text-anchor="end" fill="#1a1a1a" >signaling system</text>
<g clip-path="url(#cc)">
<circle cx="231.90" cy="347.10" r="8.10" fill="#f04a48" />
<circle cx="221.40" cy="371.00" r="7.70" fill="#ac68b8" />
<circle cx="221.40" cy="394.20" r="7.70" fill="#bc6298" />
<circle cx="209.20" cy="417.80" r="7.50" fill="#6088f8" />
<circle cx="194.10" cy="441.10" r="7.10" fill="#a46cc4" />
<circle cx="190.10" cy="464.70" r="6.70" fill="#6482f4" />
<circle cx="183.80" cy="488.30" r="6.50" fill="#6c7eec" />
<circle cx="177.70" cy="511.60" r="6.30" fill="#6c7eec" />
<circle cx="171.20" cy="534.90" r="6.00" fill="#6286f6" />
<circle cx="141.70" cy="558.50" r="3.20" fill="#5a8cfa" />
</g>
<line x1="137.3" y1="333.8" x2="137.3" y2="572.5" stroke="#222" stroke-width="1.1" />
<line x1="136.8" y1="572.0" x2="236.9" y2="572.0" stroke="#222" stroke-width="1.1" />
<line x1="156.5" y1="572.0" x2="156.5" y2="574.8" stroke="#222" stroke-width="0.8" />
<text x="157.1" y="584.2" font-size="9.6" font-family='"Liberation Serif", serif' text-anchor="middle" fill="#222" >0.1</text>
<line x1="186.4" y1="572.0" x2="186.4" y2="574.8" stroke="#222" stroke-width="0.8" />
<text x="187.0" y="584.2" font-size="9.6" font-family='"Liberation Serif", serif' text-anchor="middle" fill="#222" >0.2</text>
<line x1="216.3" y1="572.0" x2="216.3" y2="574.8" stroke="#222" stroke-width="0.8" />
<text x="216.9" y="584.2" font-size="9.6" font-family='"Liberation Serif", serif' text-anchor="middle" fill="#222" >0.3</text>
<text x="187.6" y="593.3" font-size="9.6" font-family='"Liberation Serif", serif' text-anchor="middle" fill="#222" >ratio</text>
<text x="251.0" y="367.3" font-size="10" font-family='"Liberation Serif", serif' text-anchor="start" fill="#222" >count</text>
<circle cx="260.40" cy="379.90" r="5.00" fill="#000" />
<text x="275.1" y="382.7" font-size="8.3" font-family='"Liberation Serif", serif' text-anchor="start" fill="#222" >100</text>
<circle cx="260.40" cy="395.10" r="6.10" fill="#000" />
<text x="275.1" y="397.90000000000003" font-size="8.3" font-family='"Liberation Serif", serif' text-anchor="start" fill="#222" >200</text>
<circle cx="260.40" cy="411.50" r="6.90" fill="#000" />
<text x="275.1" y="414.3" font-size="8.3" font-family='"Liberation Serif", serif' text-anchor="start" fill="#222" >300</text>
<circle cx="260.40" cy="429.80" r="7.80" fill="#000" />
<text x="275.1" y="432.6" font-size="8.3" font-family='"Liberation Serif", serif' text-anchor="start" fill="#222" >400</text>
<text x="251.2" y="466.2" font-size="10.3" font-family='"Liberation Serif", serif' text-anchor="start" fill="#222" >P</text>
<rect x="251" y="471.7" width="14.8" height="75.1" fill="url(#gc)"/>
<line x1="251" y1="475.2" x2="253.2" y2="475.2" stroke="#fff" stroke-width="0.6" />
<line x1="263.6" y1="475.2" x2="265.8" y2="475.2" stroke="#fff" stroke-width="0.6" />
<text x="270.9" y="478.2" font-size="8.3" font-family='"Liberation Serif", serif' text-anchor="start" fill="#222" >60</text>
<line x1="251" y1="490.40000000000003" x2="253.2" y2="490.40000000000003" stroke="#fff" stroke-width="0.6" />
<line x1="263.6" y1="490.40000000000003" x2="265.8" y2="490.40000000000003" stroke="#fff" stroke-width="0.6" />
<text x="270.9" y="493.40000000000003" font-size="8.3" font-family='"Liberation Serif", serif' text-anchor="start" fill="#222" >50</text>
<line x1="251" y1="505.5" x2="253.2" y2="505.5" stroke="#fff" stroke-width="0.6" />
<line x1="263.6" y1="505.5" x2="265.8" y2="505.5" stroke="#fff" stroke-width="0.6" />
<text x="270.9" y="508.5" font-size="8.3" font-family='"Liberation Serif", serif' text-anchor="start" fill="#222" >40</text>
<line x1="251" y1="520.5999999999999" x2="253.2" y2="520.5999999999999" stroke="#fff" stroke-width="0.6" />
<line x1="263.6" y1="520.5999999999999" x2="265.8" y2="520.5999999999999" stroke="#fff" stroke-width="0.6" />
<text x="270.9" y="523.5999999999999" font-size="8.3" font-family='"Liberation Serif", serif' text-anchor="start" fill="#222" >30</text>
<line x1="251" y1="535.9" x2="253.2" y2="535.9" stroke="#fff" stroke-width="0.6" />
<line x1="263.6" y1="535.9" x2="265.8" y2="535.9" stroke="#fff" stroke-width="0.6" />
<text x="270.9" y="538.9" font-size="8.3" font-family='"Liberation Serif", serif' text-anchor="start" fill="#222" >20</text>
<rect x="403.10" y="405.05" width="11.2" height="9.85" fill="#ed7d31"/>
<rect x="403.10" y="414.90" width="11.2" height="4.00" fill="#5b9bd5"/>
<rect x="403.10" y="418.90" width="11.2" height="85.40" fill="#44546a"/>
<rect x="432.05" y="405.05" width="11.2" height="8.95" fill="#ed7d31"/>
<rect x="432.05" y="414.00" width="11.2" height="2.50" fill="#5b9bd5"/>
<rect x="432.05" y="416.50" width="11.2" height="87.80" fill="#44546a"/>
<rect x="461.00" y="405.05" width="11.2" height="6.45" fill="#ed7d31"/>
<rect x="461.00" y="411.50" width="11.2" height="2.30" fill="#5b9bd5"/>
<rect x="461.00" y="413.80" width="11.2" height="90.50" fill="#44546a"/>
<rect x="489.95" y="405.05" width="11.2" height="26.45" fill="#ed7d31"/>
<rect x="489.95" y="431.50" width="11.2" height="72.80" fill="#44546a"/>
<rect x="518.90" y="405.05" width="11.2" height="8.95" fill="#ed7d31"/>
<rect x="518.90" y="414.00" width="11.2" height="90.30" fill="#44546a"/>
<rect x="547.85" y="405.05" width="11.2" height="8.65" fill="#ed7d31"/>
<rect x="547.85" y="413.70" width="11.2" height="90.60" fill="#44546a"/>
<rect x="576.80" y="405.05" width="11.2" height="7.65" fill="#ed7d31"/>
<rect x="576.80" y="412.70" width="11.2" height="91.60" fill="#44546a"/>
<rect x="605.75" y="405.05" width="11.2" height="17.05" fill="#ed7d31"/>
<rect x="605.75" y="422.10" width="11.2" height="82.20" fill="#44546a"/>
<rect x="634.70" y="405.05" width="11.2" height="25.75" fill="#ed7d31"/>
<rect x="634.70" y="430.80" width="11.2" height="3.50" fill="#5b9bd5"/>
<rect x="634.70" y="434.30" width="11.2" height="70.00" fill="#44546a"/>
<rect x="663.65" y="405.05" width="11.2" height="49.45" fill="#ed7d31"/>
<rect x="663.65" y="454.50" width="11.2" height="49.80" fill="#44546a"/>
<line x1="394.2" y1="384.6" x2="394.2" y2="505.0" stroke="#000" stroke-width="1.4" />
<line x1="393.5" y1="504.3" x2="684" y2="504.3" stroke="#000" stroke-width="1.4" />
<line x1="390.4" y1="504.3" x2="394.2" y2="504.3" stroke="#000" stroke-width="1.4" />
<text x="382.5" y="508.1" font-size="10.6" font-family='"Liberation Sans", sans-serif' text-anchor="end" fill="#000" >0</text>
<line x1="390.4" y1="484.45" x2="394.2" y2="484.45" stroke="#000" stroke-width="1.4" />
<text x="382.5" y="488.25" font-size="10.6" font-family='"Liberation Sans", sans-serif' text-anchor="end" fill="#000" >20</text>
<line x1="390.4" y1="464.6" x2="394.2" y2="464.6" stroke="#000" stroke-width="1.4" />
<text x="382.5" y="468.40000000000003" font-size="10.6" font-family='"Liberation Sans", sans-serif' text-anchor="end" fill="#000" >40</text>
<line x1="390.4" y1="444.75" x2="394.2" y2="444.75" stroke="#000" stroke-width="1.4" />
<text x="382.5" y="448.55" font-size="10.6" font-family='"Liberation Sans", sans-serif' text-anchor="end" fill="#000" >60</text>
<line x1="390.4" y1="424.9" x2="394.2" y2="424.9" stroke="#000" stroke-width="1.4" />
<text x="382.5" y="428.7" font-size="10.6" font-family='"Liberation Sans", sans-serif' text-anchor="end" fill="#000" >80</text>
<line x1="390.4" y1="405.05" x2="394.2" y2="405.05" stroke="#000" stroke-width="1.4" />
<text x="382.5" y="408.85" font-size="10.6" font-family='"Liberation Sans", sans-serif' text-anchor="end" fill="#000" >100</text>
<line x1="390.4" y1="385.2" x2="394.2" y2="385.2" stroke="#000" stroke-width="1.4" />
<text x="382.5" y="389.0" font-size="10.6" font-family='"Liberation Sans", sans-serif' text-anchor="end" fill="#000" >120</text>
<line x1="394.6" y1="504.3" x2="394.6" y2="507.7" stroke="#000" stroke-width="1.4" />
<line x1="423.52000000000004" y1="504.3" x2="423.52000000000004" y2="507.7" stroke="#000" stroke-width="1.4" />
<line x1="452.44000000000005" y1="504.3" x2="452.44000000000005" y2="507.7" stroke="#000" stroke-width="1.4" />
<line x1="481.36" y1="504.3" x2="481.36" y2="507.7" stroke="#000" stroke-width="1.4" />
<line x1="510.28000000000003" y1="504.3" x2="510.28000000000003" y2="507.7" stroke="#000" stroke-width="1.4" />
<line x1="539.2" y1="504.3" x2="539.2" y2="507.7" stroke="#000" stroke-width="1.4" />
<line x1="568.12" y1="504.3" x2="568.12" y2="507.7" stroke="#000" stroke-width="1.4" />
<line x1="597.04" y1="504.3" x2="597.04" y2="507.7" stroke="#000" stroke-width="1.4" />
<line x1="625.96" y1="504.3" x2="625.96" y2="507.7" stroke="#000" stroke-width="1.4" />
<line x1="654.8800000000001" y1="504.3" x2="654.8800000000001" y2="507.7" stroke="#000" stroke-width="1.4" />
<line x1="683.8000000000001" y1="504.3" x2="683.8000000000001" y2="507.7" stroke="#000" stroke-width="1.4" />
<text transform="translate(412.30,521.2) rotate(-45)" font-size="12.0" font-family='"Liberation Sans", sans-serif' text-anchor="end" fill="#000">(226) bHLH</text>
<text transform="translate(441.22,521.2) rotate(-45)" font-size="12.0" font-family='"Liberation Sans", sans-serif' text-anchor="end" fill="#000">(41) Chitinase</text>
<text transform="translate(470.14,521.2) rotate(-45)" font-size="12.0" font-family='"Liberation Sans", sans-serif' text-anchor="end" fill="#000">(588) NBS-LRR</text>
<text transform="translate(499.06,521.2) rotate(-45)" font-size="12.0" font-family='"Liberation Sans", sans-serif' text-anchor="end" fill="#000">(148) ERF</text>
<text transform="translate(527.98,521.2) rotate(-45)" font-size="12.0" font-family='"Liberation Sans", sans-serif' text-anchor="end" fill="#000">(55) MAPK</text>
<text transform="translate(556.90,521.2) rotate(-45)" font-size="12.0" font-family='"Liberation Sans", sans-serif' text-anchor="end" fill="#000">(302) MYB</text>
<text transform="translate(585.82,521.2) rotate(-45)" font-size="12.0" font-family='"Liberation Sans", sans-serif' text-anchor="end" fill="#000">(192) NAC</text>
<text transform="translate(614.74,521.2) rotate(-45)" font-size="12.0" font-family='"Liberation Sans", sans-serif' text-anchor="end" fill="#000">(29) RBOH</text>
<text transform="translate(643.66,521.2) rotate(-45)" font-size="12.0" font-family='"Liberation Sans", sans-serif' text-anchor="end" fill="#000">(162) WRKY</text>
<text transform="translate(672.58,521.2) rotate(-45)" font-size="12.0" font-family='"Liberation Sans", sans-serif' text-anchor="end" fill="#000">(12) FT</text>
<text transform="translate(360.6,438.3) rotate(-90)" font-size="11.5" font-family='"Liberation Sans", sans-serif' text-anchor="middle" fill="#000">Percentage</text>
<rect x="512.7" y="386.2" width="6.7" height="6.5" fill="#44546a"/>
<text x="522.4" y="393.6" font-size="12" font-family='"Liberation Sans", sans-serif' text-anchor="start" fill="#000" >insignificant</text>
<rect x="594" y="386.2" width="6.5" height="6.5" fill="#5b9bd5"/>
<text x="603.7" y="393.6" font-size="12" font-family='"Liberation Sans", sans-serif' text-anchor="start" fill="#000" >down</text>
<rect x="642.3" y="386.2" width="6.5" height="6.5" fill="#ed7d31"/>
<text x="651.5" y="393.6" font-size="12" font-family='"Liberation Sans", sans-serif' text-anchor="start" fill="#000" >up</text>
</svg></body></html>
